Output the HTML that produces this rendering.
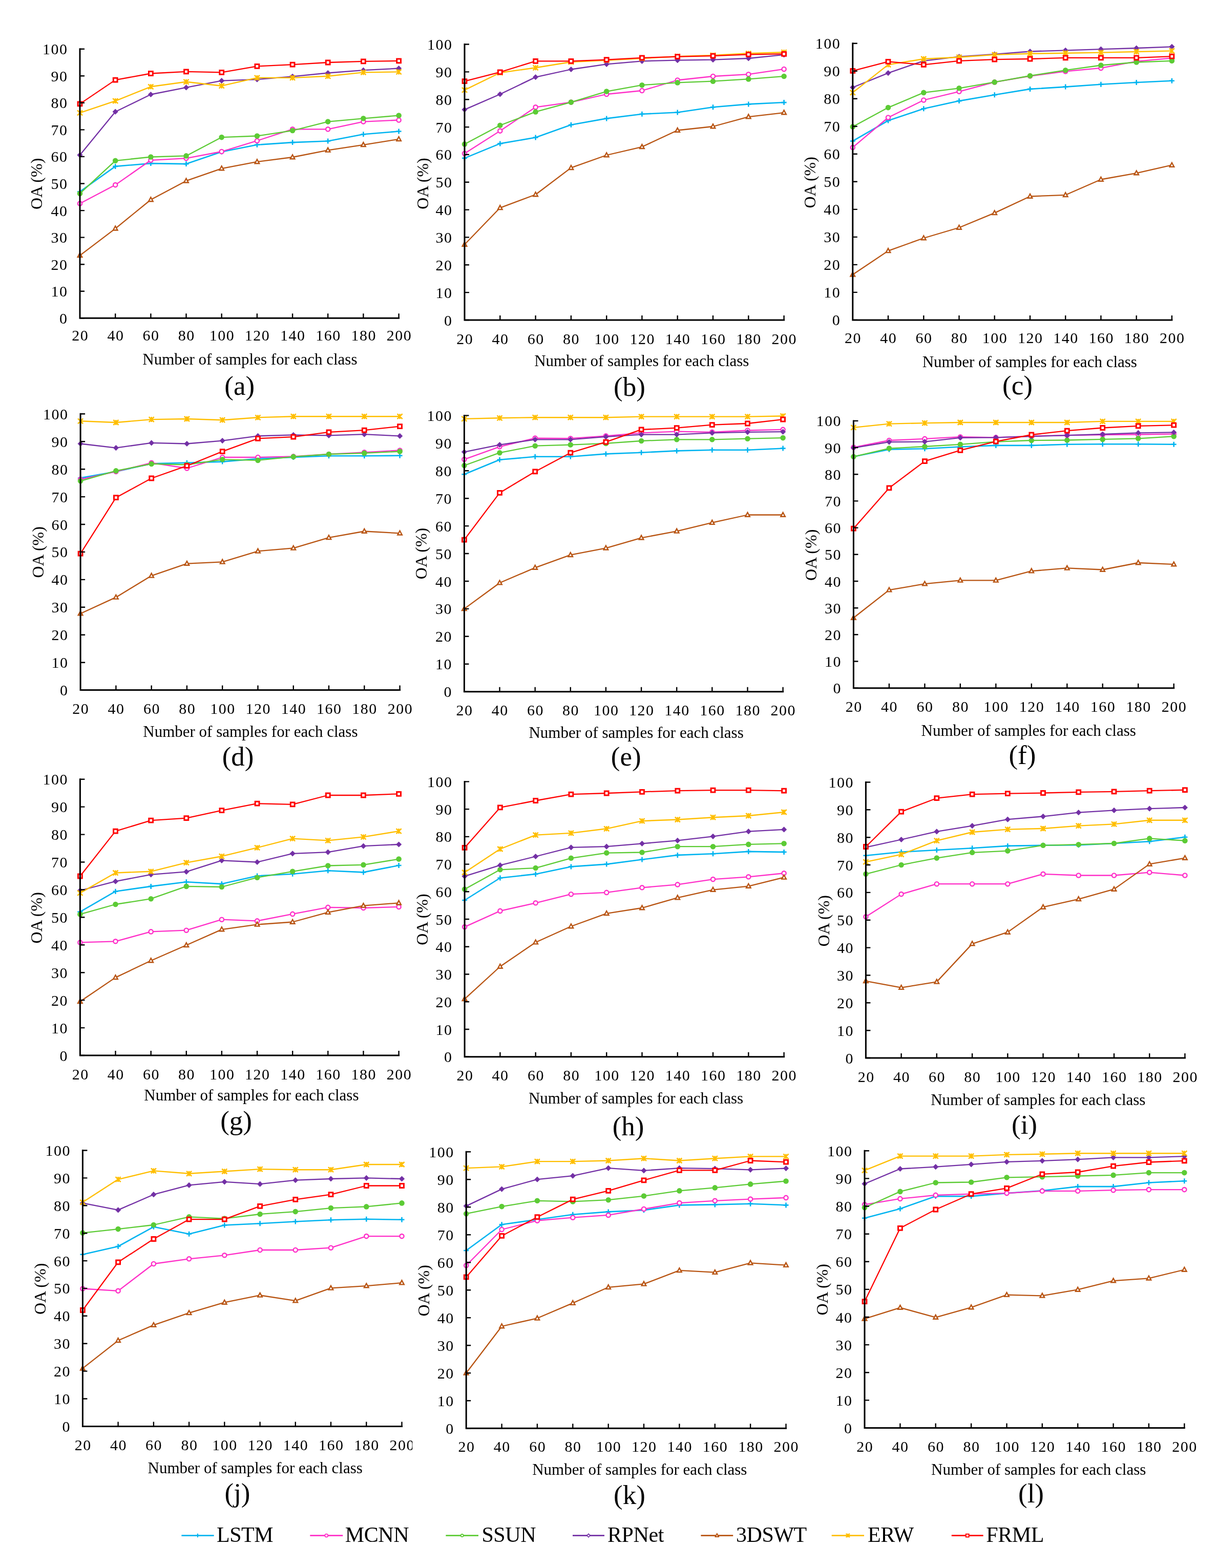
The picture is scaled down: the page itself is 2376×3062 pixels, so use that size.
<!DOCTYPE html>
<html><head><meta charset="utf-8"><title>OA curves</title><style>html,body{margin:0;padding:0;background:#fff;}svg{display:block;}</style></head><body>
<svg width="2376" height="3062" viewBox="0 0 2376 3062" font-family="'Liberation Serif', 'Times New Roman', serif" fill="#000">
<rect width="2376" height="3062" fill="#fff"/>
<g id="chart-a">
<path d="M156 374.3 L225.2 324.9 L294.4 319.1 L363.5 320.1 L432.7 296.5 L501.9 282.8 L571.1 278.1 L640.2 275.5 L709.4 262.3 L778.6 256.5" fill="none" stroke="#00B4F0" stroke-width="2.6" stroke-linejoin="round" stroke-linecap="round"/>
<path d="M151 374.3H161M156 369.3V379.3M220.2 324.9H230.2M225.2 319.9V329.9M289.4 319.1H299.4M294.4 314.1V324.1M358.5 320.1H368.5M363.5 315.1V325.1M427.7 296.5H437.7M432.7 291.5V301.5M496.9 282.8H506.9M501.9 277.8V287.8M566.1 278.1H576.1M571.1 273.1V283.1M635.2 275.5H645.2M640.2 270.5V280.5M704.4 262.3H714.4M709.4 257.3V267.3M773.6 256.5H783.6M778.6 251.5V261.5" fill="none" stroke="#00B4F0" stroke-width="2.6"/>
<path d="M156 397.4 L225.2 361.1 L294.4 312.8 L363.5 309.1 L432.7 296 L501.9 274.9 L571.1 252.3 L640.2 252.3 L709.4 237.6 L778.6 234.5" fill="none" stroke="#FF2FC8" stroke-width="2.3" stroke-linejoin="round" stroke-linecap="round"/>
<circle cx="156" cy="397.4" r="4.1" fill="#fff" stroke="#FF2FC8" stroke-width="2.4"/>
<circle cx="225.2" cy="361.1" r="4.1" fill="#fff" stroke="#FF2FC8" stroke-width="2.4"/>
<circle cx="294.4" cy="312.8" r="4.1" fill="#fff" stroke="#FF2FC8" stroke-width="2.4"/>
<circle cx="363.5" cy="309.1" r="4.1" fill="#fff" stroke="#FF2FC8" stroke-width="2.4"/>
<circle cx="432.7" cy="296" r="4.1" fill="#fff" stroke="#FF2FC8" stroke-width="2.4"/>
<circle cx="501.9" cy="274.9" r="4.1" fill="#fff" stroke="#FF2FC8" stroke-width="2.4"/>
<circle cx="571.1" cy="252.3" r="4.1" fill="#fff" stroke="#FF2FC8" stroke-width="2.4"/>
<circle cx="640.2" cy="252.3" r="4.1" fill="#fff" stroke="#FF2FC8" stroke-width="2.4"/>
<circle cx="709.4" cy="237.6" r="4.1" fill="#fff" stroke="#FF2FC8" stroke-width="2.4"/>
<circle cx="778.6" cy="234.5" r="4.1" fill="#fff" stroke="#FF2FC8" stroke-width="2.4"/>
<path d="M156 377.9 L225.2 313.8 L294.4 306.5 L363.5 304.4 L432.7 268.1 L501.9 265.5 L571.1 255 L640.2 237.6 L709.4 231.3 L778.6 225.5" fill="none" stroke="#5CCB35" stroke-width="2.3" stroke-linejoin="round" stroke-linecap="round"/>
<circle cx="156" cy="377.9" r="5.3" fill="#5CCB35"/>
<circle cx="225.2" cy="313.8" r="5.3" fill="#5CCB35"/>
<circle cx="294.4" cy="306.5" r="5.3" fill="#5CCB35"/>
<circle cx="363.5" cy="304.4" r="5.3" fill="#5CCB35"/>
<circle cx="432.7" cy="268.1" r="5.3" fill="#5CCB35"/>
<circle cx="501.9" cy="265.5" r="5.3" fill="#5CCB35"/>
<circle cx="571.1" cy="255" r="5.3" fill="#5CCB35"/>
<circle cx="640.2" cy="237.6" r="5.3" fill="#5CCB35"/>
<circle cx="709.4" cy="231.3" r="5.3" fill="#5CCB35"/>
<circle cx="778.6" cy="225.5" r="5.3" fill="#5CCB35"/>
<path d="M156 302.8 L225.2 218.2 L294.4 184.5 L363.5 170.9 L432.7 157.7 L501.9 155.1 L571.1 149.3 L640.2 142.5 L709.4 137.2 L778.6 133.5" fill="none" stroke="#7330A5" stroke-width="2.3" stroke-linejoin="round" stroke-linecap="round"/>
<path d="M156 297.2L161.6 302.8L156 308.4L150.4 302.8zM225.2 212.6L230.8 218.2L225.2 223.8L219.6 218.2zM294.4 178.9L300 184.5L294.4 190.1L288.8 184.5zM363.5 165.3L369.1 170.9L363.5 176.5L357.9 170.9zM432.7 152.1L438.3 157.7L432.7 163.3L427.1 157.7zM501.9 149.5L507.5 155.1L501.9 160.7L496.3 155.1zM571.1 143.7L576.7 149.3L571.1 154.9L565.5 149.3zM640.2 136.9L645.8 142.5L640.2 148.1L634.6 142.5zM709.4 131.6L715 137.2L709.4 142.8L703.8 137.2zM778.6 127.9L784.2 133.5L778.6 139.1L773 133.5z" fill="#7330A5" stroke="none"/>
<path d="M156 498.8 L225.2 446.3 L294.4 390 L363.5 353.2 L432.7 329.1 L501.9 315.9 L571.1 307 L640.2 293.3 L709.4 282.8 L778.6 271.8" fill="none" stroke="#B85412" stroke-width="2.3" stroke-linejoin="round" stroke-linecap="round"/>
<path d="M156 494.1L160.3 502.1L151.7 502.1zM225.2 441.5L229.5 449.5L220.9 449.5zM294.4 385.3L298.7 393.3L290.1 393.3zM363.5 348.5L367.8 356.5L359.2 356.5zM432.7 324.3L437 332.3L428.4 332.3zM501.9 311.2L506.2 319.2L497.6 319.2zM571.1 302.3L575.4 310.2L566.8 310.2zM640.2 288.6L644.5 296.6L635.9 296.6zM709.4 278.1L713.7 286L705.1 286zM778.6 267L782.9 275L774.3 275z" fill="#fff" stroke="#B85412" stroke-width="2.4" stroke-linejoin="miter"/>
<path d="M156 220.3 L225.2 197.1 L294.4 169.3 L363.5 159.8 L432.7 167.7 L501.9 151.9 L571.1 151.9 L640.2 148.8 L709.4 141.4 L778.6 140.4" fill="none" stroke="#FFBE00" stroke-width="2.4" stroke-linejoin="round" stroke-linecap="round"/>
<path d="M151 215.3L161 225.3M151 225.3L161 215.3M156 215.3V225.3M220.2 192.1L230.2 202.1M220.2 202.1L230.2 192.1M225.2 192.1V202.1M289.4 164.3L299.4 174.3M289.4 174.3L299.4 164.3M294.4 164.3V174.3M358.5 154.8L368.5 164.8M358.5 164.8L368.5 154.8M363.5 154.8V164.8M427.7 162.7L437.7 172.7M427.7 172.7L437.7 162.7M432.7 162.7V172.7M496.9 146.9L506.9 156.9M496.9 156.9L506.9 146.9M501.9 146.9V156.9M566.1 146.9L576.1 156.9M566.1 156.9L576.1 146.9M571.1 146.9V156.9M635.2 143.8L645.2 153.8M635.2 153.8L645.2 143.8M640.2 143.8V153.8M704.4 136.4L714.4 146.4M704.4 146.4L714.4 136.4M709.4 136.4V146.4M773.6 135.4L783.6 145.4M773.6 145.4L783.6 135.4M778.6 135.4V145.4" fill="none" stroke="#FFBE00" stroke-width="2.6"/>
<path d="M156 202.9 L225.2 156.1 L294.4 143.5 L363.5 139.9 L432.7 141.4 L501.9 129.3 L571.1 126.2 L640.2 122 L709.4 119.9 L778.6 118.8" fill="none" stroke="#FF0000" stroke-width="2.3" stroke-linejoin="round" stroke-linecap="round"/>
<path d="M152.1 199h7.8v7.8h-7.8zM221.3 152.2h7.8v7.8h-7.8zM290.5 139.6h7.8v7.8h-7.8zM359.6 136h7.8v7.8h-7.8zM428.8 137.5h7.8v7.8h-7.8zM498 125.4h7.8v7.8h-7.8zM567.2 122.3h7.8v7.8h-7.8zM636.3 118.1h7.8v7.8h-7.8zM705.5 116h7.8v7.8h-7.8zM774.7 114.9h7.8v7.8h-7.8z" fill="#fff" stroke="#FF0000" stroke-width="3.0" stroke-linejoin="miter"/>
<path d="M156 95.7V621.3H778.6" fill="none" stroke="#000" stroke-width="3.0" stroke-linecap="square"/>
<path d="M156 621.3h9M156 568.7h9M156 516.2h9M156 463.6h9M156 411.1h9M156 358.5h9M156 305.9h9M156 253.4h9M156 200.8h9M156 148.3h9M156 95.7h9M225.2 621.3v-9M294.4 621.3v-9M363.5 621.3v-9M432.7 621.3v-9M501.9 621.3v-9M571.1 621.3v-9M640.2 621.3v-9M709.4 621.3v-9M778.6 621.3v-9" stroke="#000" stroke-width="2.4"/>
<g font-size="30" letter-spacing="1.5"><text x="132.5" y="631.8" text-anchor="end">0</text><text x="132.5" y="579.2" text-anchor="end">10</text><text x="132.5" y="526.7" text-anchor="end">20</text><text x="132.5" y="474.1" text-anchor="end">30</text><text x="132.5" y="421.6" text-anchor="end">40</text><text x="132.5" y="369" text-anchor="end">50</text><text x="132.5" y="316.4" text-anchor="end">60</text><text x="132.5" y="263.9" text-anchor="end">70</text><text x="132.5" y="211.3" text-anchor="end">80</text><text x="132.5" y="158.8" text-anchor="end">90</text><text x="132.5" y="106.2" text-anchor="end">100</text><text x="156.8" y="665.4" text-anchor="middle">20</text><text x="225.9" y="665.4" text-anchor="middle">40</text><text x="295.1" y="665.4" text-anchor="middle">60</text><text x="364.3" y="665.4" text-anchor="middle">80</text><text x="433.5" y="665.4" text-anchor="middle">100</text><text x="502.6" y="665.4" text-anchor="middle">120</text><text x="571.8" y="665.4" text-anchor="middle">140</text><text x="641" y="665.4" text-anchor="middle">160</text><text x="710.2" y="665.4" text-anchor="middle">180</text><text x="779.4" y="665.4" text-anchor="middle">200</text></g>
<text x="487.9" y="711.7" text-anchor="middle" font-size="31">Number of samples for each class</text>
<text x="467.7" y="771" text-anchor="middle" font-size="53">(a)</text>
<text transform="translate(82.3 358.9) rotate(-90)" x="0" y="0" text-anchor="middle" font-size="32">OA (%)</text>
</g>
<g id="chart-b">
<path d="M907 308.9 L976.3 280.4 L1045.6 268.5 L1114.9 243.7 L1184.2 231.4 L1253.4 222.7 L1322.7 219.5 L1392 209.3 L1461.3 203.4 L1530.6 200.1" fill="none" stroke="#00B4F0" stroke-width="2.6" stroke-linejoin="round" stroke-linecap="round"/>
<path d="M902 308.9H912M907 303.9V313.9M971.3 280.4H981.3M976.3 275.4V285.4M1040.6 268.5H1050.6M1045.6 263.5V273.5M1109.9 243.7H1119.9M1114.9 238.7V248.7M1179.2 231.4H1189.2M1184.2 226.4V236.4M1248.4 222.7H1258.4M1253.4 217.7V227.7M1317.7 219.5H1327.7M1322.7 214.5V224.5M1387 209.3H1397M1392 204.3V214.3M1456.3 203.4H1466.3M1461.3 198.4V208.4M1525.6 200.1H1535.6M1530.6 195.1V205.1" fill="none" stroke="#00B4F0" stroke-width="2.6"/>
<path d="M907 299.7 L976.3 255.6 L1045.6 209.3 L1114.9 199.6 L1184.2 184 L1253.4 177 L1322.7 156.5 L1392 149 L1461.3 145.2 L1530.6 135" fill="none" stroke="#FF2FC8" stroke-width="2.3" stroke-linejoin="round" stroke-linecap="round"/>
<circle cx="907" cy="299.7" r="4.1" fill="#fff" stroke="#FF2FC8" stroke-width="2.4"/>
<circle cx="976.3" cy="255.6" r="4.1" fill="#fff" stroke="#FF2FC8" stroke-width="2.4"/>
<circle cx="1045.6" cy="209.3" r="4.1" fill="#fff" stroke="#FF2FC8" stroke-width="2.4"/>
<circle cx="1114.9" cy="199.6" r="4.1" fill="#fff" stroke="#FF2FC8" stroke-width="2.4"/>
<circle cx="1184.2" cy="184" r="4.1" fill="#fff" stroke="#FF2FC8" stroke-width="2.4"/>
<circle cx="1253.4" cy="177" r="4.1" fill="#fff" stroke="#FF2FC8" stroke-width="2.4"/>
<circle cx="1322.7" cy="156.5" r="4.1" fill="#fff" stroke="#FF2FC8" stroke-width="2.4"/>
<circle cx="1392" cy="149" r="4.1" fill="#fff" stroke="#FF2FC8" stroke-width="2.4"/>
<circle cx="1461.3" cy="145.2" r="4.1" fill="#fff" stroke="#FF2FC8" stroke-width="2.4"/>
<circle cx="1530.6" cy="135" r="4.1" fill="#fff" stroke="#FF2FC8" stroke-width="2.4"/>
<path d="M907 281.4 L976.3 244.8 L1045.6 218.4 L1114.9 199.6 L1184.2 178.6 L1253.4 166.2 L1322.7 161.4 L1392 158.7 L1461.3 154.4 L1530.6 149" fill="none" stroke="#5CCB35" stroke-width="2.3" stroke-linejoin="round" stroke-linecap="round"/>
<circle cx="907" cy="281.4" r="5.3" fill="#5CCB35"/>
<circle cx="976.3" cy="244.8" r="5.3" fill="#5CCB35"/>
<circle cx="1045.6" cy="218.4" r="5.3" fill="#5CCB35"/>
<circle cx="1114.9" cy="199.6" r="5.3" fill="#5CCB35"/>
<circle cx="1184.2" cy="178.6" r="5.3" fill="#5CCB35"/>
<circle cx="1253.4" cy="166.2" r="5.3" fill="#5CCB35"/>
<circle cx="1322.7" cy="161.4" r="5.3" fill="#5CCB35"/>
<circle cx="1392" cy="158.7" r="5.3" fill="#5CCB35"/>
<circle cx="1461.3" cy="154.4" r="5.3" fill="#5CCB35"/>
<circle cx="1530.6" cy="149" r="5.3" fill="#5CCB35"/>
<path d="M907 214.1 L976.3 184 L1045.6 150.6 L1114.9 135.5 L1184.2 125.3 L1253.4 119.3 L1322.7 117.7 L1392 116.7 L1461.3 114 L1530.6 107" fill="none" stroke="#7330A5" stroke-width="2.3" stroke-linejoin="round" stroke-linecap="round"/>
<path d="M907 208.5L912.6 214.1L907 219.7L901.4 214.1zM976.3 178.4L981.9 184L976.3 189.6L970.7 184zM1045.6 145L1051.2 150.6L1045.6 156.2L1040 150.6zM1114.9 129.9L1120.5 135.5L1114.9 141.1L1109.3 135.5zM1184.2 119.7L1189.8 125.3L1184.2 130.9L1178.6 125.3zM1253.4 113.7L1259 119.3L1253.4 124.9L1247.8 119.3zM1322.7 112.1L1328.3 117.7L1322.7 123.3L1317.1 117.7zM1392 111.1L1397.6 116.7L1392 122.3L1386.4 116.7zM1461.3 108.4L1466.9 114L1461.3 119.6L1455.7 114zM1530.6 101.4L1536.2 107L1530.6 112.6L1525 107z" fill="#7330A5" stroke="none"/>
<path d="M907 477.5 L976.3 405.8 L1045.6 380 L1114.9 327.7 L1184.2 303 L1253.4 286.8 L1322.7 254.5 L1392 247 L1461.3 228.1 L1530.6 220" fill="none" stroke="#B85412" stroke-width="2.3" stroke-linejoin="round" stroke-linecap="round"/>
<path d="M907 472.7L911.3 480.7L902.7 480.7zM976.3 401.1L980.6 409.1L972 409.1zM1045.6 375.3L1049.9 383.2L1041.3 383.2zM1114.9 323L1119.2 331L1110.6 331zM1184.2 298.2L1188.5 306.2L1179.9 306.2zM1253.4 282.1L1257.7 290L1249.1 290zM1322.7 249.8L1327 257.7L1318.4 257.7zM1392 242.2L1396.3 250.2L1387.7 250.2zM1461.3 223.4L1465.6 231.4L1457 231.4zM1530.6 215.3L1534.9 223.3L1526.3 223.3z" fill="#fff" stroke="#B85412" stroke-width="2.4" stroke-linejoin="miter"/>
<path d="M907 175.9 L976.3 142 L1045.6 132.3 L1114.9 121 L1184.2 117.7 L1253.4 114 L1322.7 110.2 L1392 108 L1461.3 104.3 L1530.6 102.1" fill="none" stroke="#FFBE00" stroke-width="2.4" stroke-linejoin="round" stroke-linecap="round"/>
<path d="M902 170.9L912 180.9M902 180.9L912 170.9M907 170.9V180.9M971.3 137L981.3 147M971.3 147L981.3 137M976.3 137V147M1040.6 127.3L1050.6 137.3M1040.6 137.3L1050.6 127.3M1045.6 127.3V137.3M1109.9 116L1119.9 126M1109.9 126L1119.9 116M1114.9 116V126M1179.2 112.7L1189.2 122.7M1179.2 122.7L1189.2 112.7M1184.2 112.7V122.7M1248.4 109L1258.4 119M1248.4 119L1258.4 109M1253.4 109V119M1317.7 105.2L1327.7 115.2M1317.7 115.2L1327.7 105.2M1322.7 105.2V115.2M1387 103L1397 113M1387 113L1397 103M1392 103V113M1456.3 99.3L1466.3 109.3M1456.3 109.3L1466.3 99.3M1461.3 99.3V109.3M1525.6 97.1L1535.6 107.1M1525.6 107.1L1535.6 97.1M1530.6 97.1V107.1" fill="none" stroke="#FFBE00" stroke-width="2.6"/>
<path d="M907 158.7 L976.3 140.9 L1045.6 119.3 L1114.9 119.3 L1184.2 116.7 L1253.4 112.9 L1322.7 110.7 L1392 109.1 L1461.3 106.4 L1530.6 105.3" fill="none" stroke="#FF0000" stroke-width="2.3" stroke-linejoin="round" stroke-linecap="round"/>
<path d="M903.1 154.8h7.8v7.8h-7.8zM972.4 137h7.8v7.8h-7.8zM1041.7 115.4h7.8v7.8h-7.8zM1111 115.4h7.8v7.8h-7.8zM1180.3 112.8h7.8v7.8h-7.8zM1249.5 109h7.8v7.8h-7.8zM1318.8 106.8h7.8v7.8h-7.8zM1388.1 105.2h7.8v7.8h-7.8zM1457.4 102.5h7.8v7.8h-7.8zM1526.7 101.4h7.8v7.8h-7.8z" fill="#fff" stroke="#FF0000" stroke-width="3.0" stroke-linejoin="miter"/>
<path d="M907 86.5V625H1530.6" fill="none" stroke="#000" stroke-width="3.0" stroke-linecap="square"/>
<path d="M907 625h9M907 571.1h9M907 517.3h9M907 463.4h9M907 409.6h9M907 355.8h9M907 301.9h9M907 248.1h9M907 194.2h9M907 140.4h9M907 86.5h9M976.3 625v-9M1045.6 625v-9M1114.9 625v-9M1184.2 625v-9M1253.4 625v-9M1322.7 625v-9M1392 625v-9M1461.3 625v-9M1530.6 625v-9" stroke="#000" stroke-width="2.4"/>
<g font-size="30" letter-spacing="1.5"><text x="883.5" y="635.5" text-anchor="end">0</text><text x="883.5" y="581.6" text-anchor="end">10</text><text x="883.5" y="527.8" text-anchor="end">20</text><text x="883.5" y="473.9" text-anchor="end">30</text><text x="883.5" y="420.1" text-anchor="end">40</text><text x="883.5" y="366.2" text-anchor="end">50</text><text x="883.5" y="312.4" text-anchor="end">60</text><text x="883.5" y="258.6" text-anchor="end">70</text><text x="883.5" y="204.7" text-anchor="end">80</text><text x="883.5" y="150.9" text-anchor="end">90</text><text x="883.5" y="97" text-anchor="end">100</text><text x="907.8" y="671.6" text-anchor="middle">20</text><text x="977" y="671.6" text-anchor="middle">40</text><text x="1046.3" y="671.6" text-anchor="middle">60</text><text x="1115.6" y="671.6" text-anchor="middle">80</text><text x="1184.9" y="671.6" text-anchor="middle">100</text><text x="1254.2" y="671.6" text-anchor="middle">120</text><text x="1323.5" y="671.6" text-anchor="middle">140</text><text x="1392.8" y="671.6" text-anchor="middle">160</text><text x="1462.1" y="671.6" text-anchor="middle">180</text><text x="1531.3" y="671.6" text-anchor="middle">200</text></g>
<text x="1252.8" y="715" text-anchor="middle" font-size="31">Number of samples for each class</text>
<text x="1229" y="773" text-anchor="middle" font-size="53">(b)</text>
<text transform="translate(835.6 358.5) rotate(-90)" x="0" y="0" text-anchor="middle" font-size="32">OA (%)</text>
</g>
<g id="chart-c">
<path d="M1664.8 275.5 L1734 235.5 L1803.3 212.3 L1872.5 197.1 L1941.7 185.3 L2011 173.9 L2080.2 169.6 L2149.4 164.7 L2218.7 161 L2287.9 157.7" fill="none" stroke="#00B4F0" stroke-width="2.6" stroke-linejoin="round" stroke-linecap="round"/>
<path d="M1659.8 275.5H1669.8M1664.8 270.5V280.5M1729 235.5H1739M1734 230.5V240.5M1798.3 212.3H1808.3M1803.3 207.3V217.3M1867.5 197.1H1877.5M1872.5 192.1V202.1M1936.7 185.3H1946.7M1941.7 180.3V190.3M2006 173.9H2016M2011 168.9V178.9M2075.2 169.6H2085.2M2080.2 164.6V174.6M2144.4 164.7H2154.4M2149.4 159.7V169.7M2213.7 161H2223.7M2218.7 156V166M2282.9 157.7H2292.9M2287.9 152.7V162.7" fill="none" stroke="#00B4F0" stroke-width="2.6"/>
<path d="M1664.8 287.9 L1734 229.5 L1803.3 195.5 L1872.5 178.8 L1941.7 160.4 L2011 148.5 L2080.2 139.4 L2149.4 132.9 L2218.7 119.9 L2287.9 113.4" fill="none" stroke="#FF2FC8" stroke-width="2.3" stroke-linejoin="round" stroke-linecap="round"/>
<circle cx="1664.8" cy="287.9" r="4.1" fill="#fff" stroke="#FF2FC8" stroke-width="2.4"/>
<circle cx="1734" cy="229.5" r="4.1" fill="#fff" stroke="#FF2FC8" stroke-width="2.4"/>
<circle cx="1803.3" cy="195.5" r="4.1" fill="#fff" stroke="#FF2FC8" stroke-width="2.4"/>
<circle cx="1872.5" cy="178.8" r="4.1" fill="#fff" stroke="#FF2FC8" stroke-width="2.4"/>
<circle cx="1941.7" cy="160.4" r="4.1" fill="#fff" stroke="#FF2FC8" stroke-width="2.4"/>
<circle cx="2011" cy="148.5" r="4.1" fill="#fff" stroke="#FF2FC8" stroke-width="2.4"/>
<circle cx="2080.2" cy="139.4" r="4.1" fill="#fff" stroke="#FF2FC8" stroke-width="2.4"/>
<circle cx="2149.4" cy="132.9" r="4.1" fill="#fff" stroke="#FF2FC8" stroke-width="2.4"/>
<circle cx="2218.7" cy="119.9" r="4.1" fill="#fff" stroke="#FF2FC8" stroke-width="2.4"/>
<circle cx="2287.9" cy="113.4" r="4.1" fill="#fff" stroke="#FF2FC8" stroke-width="2.4"/>
<path d="M1664.8 247.4 L1734 210.1 L1803.3 180.9 L1872.5 172.3 L1941.7 160.4 L2011 148 L2080.2 137.2 L2149.4 127.5 L2218.7 121.5 L2287.9 118.8" fill="none" stroke="#5CCB35" stroke-width="2.3" stroke-linejoin="round" stroke-linecap="round"/>
<circle cx="1664.8" cy="247.4" r="5.3" fill="#5CCB35"/>
<circle cx="1734" cy="210.1" r="5.3" fill="#5CCB35"/>
<circle cx="1803.3" cy="180.9" r="5.3" fill="#5CCB35"/>
<circle cx="1872.5" cy="172.3" r="5.3" fill="#5CCB35"/>
<circle cx="1941.7" cy="160.4" r="5.3" fill="#5CCB35"/>
<circle cx="2011" cy="148" r="5.3" fill="#5CCB35"/>
<circle cx="2080.2" cy="137.2" r="5.3" fill="#5CCB35"/>
<circle cx="2149.4" cy="127.5" r="5.3" fill="#5CCB35"/>
<circle cx="2218.7" cy="121.5" r="5.3" fill="#5CCB35"/>
<circle cx="2287.9" cy="118.8" r="5.3" fill="#5CCB35"/>
<path d="M1664.8 170.7 L1734 142.6 L1803.3 118.8 L1872.5 110.7 L1941.7 105.9 L2011 100.5 L2080.2 98.3 L2149.4 96.1 L2218.7 94 L2287.9 91.3" fill="none" stroke="#7330A5" stroke-width="2.3" stroke-linejoin="round" stroke-linecap="round"/>
<path d="M1664.8 165.1L1670.4 170.7L1664.8 176.3L1659.2 170.7zM1734 137L1739.6 142.6L1734 148.2L1728.4 142.6zM1803.3 113.2L1808.9 118.8L1803.3 124.4L1797.7 118.8zM1872.5 105.1L1878.1 110.7L1872.5 116.3L1866.9 110.7zM1941.7 100.3L1947.3 105.9L1941.7 111.5L1936.1 105.9zM2011 94.9L2016.6 100.5L2011 106.1L2005.4 100.5zM2080.2 92.7L2085.8 98.3L2080.2 103.9L2074.6 98.3zM2149.4 90.5L2155 96.1L2149.4 101.7L2143.8 96.1zM2218.7 88.4L2224.3 94L2218.7 99.6L2213.1 94zM2287.9 85.7L2293.5 91.3L2287.9 96.9L2282.3 91.3z" fill="#7330A5" stroke="none"/>
<path d="M1664.8 536.3 L1734 489.9 L1803.3 465 L1872.5 444.5 L1941.7 415.9 L2011 383.5 L2080.2 380.8 L2149.4 350.5 L2218.7 338.1 L2287.9 322.4" fill="none" stroke="#B85412" stroke-width="2.3" stroke-linejoin="round" stroke-linecap="round"/>
<path d="M1664.8 531.6L1669.1 539.5L1660.5 539.5zM1734 485.1L1738.3 493.1L1729.7 493.1zM1803.3 460.3L1807.6 468.3L1799 468.3zM1872.5 439.8L1876.8 447.7L1868.2 447.7zM1941.7 411.2L1946 419.1L1937.4 419.1zM2011 378.7L2015.3 386.7L2006.7 386.7zM2080.2 376L2084.5 384L2075.9 384zM2149.4 345.8L2153.7 353.8L2145.1 353.8zM2218.7 333.4L2223 341.3L2214.4 341.3zM2287.9 317.7L2292.2 325.7L2283.6 325.7z" fill="#fff" stroke="#B85412" stroke-width="2.4" stroke-linejoin="miter"/>
<path d="M1664.8 180.9 L1734 126.4 L1803.3 115 L1872.5 111.8 L1941.7 106.9 L2011 104.8 L2080.2 103.7 L2149.4 102.6 L2218.7 101 L2287.9 99.4" fill="none" stroke="#FFBE00" stroke-width="2.4" stroke-linejoin="round" stroke-linecap="round"/>
<path d="M1659.8 175.9L1669.8 185.9M1659.8 185.9L1669.8 175.9M1664.8 175.9V185.9M1729 121.4L1739 131.4M1729 131.4L1739 121.4M1734 121.4V131.4M1798.3 110L1808.3 120M1798.3 120L1808.3 110M1803.3 110V120M1867.5 106.8L1877.5 116.8M1867.5 116.8L1877.5 106.8M1872.5 106.8V116.8M1936.7 101.9L1946.7 111.9M1936.7 111.9L1946.7 101.9M1941.7 101.9V111.9M2006 99.8L2016 109.8M2006 109.8L2016 99.8M2011 99.8V109.8M2075.2 98.7L2085.2 108.7M2075.2 108.7L2085.2 98.7M2080.2 98.7V108.7M2144.4 97.6L2154.4 107.6M2144.4 107.6L2154.4 97.6M2149.4 97.6V107.6M2213.7 96L2223.7 106M2213.7 106L2223.7 96M2218.7 96V106M2282.9 94.4L2292.9 104.4M2282.9 104.4L2292.9 94.4M2287.9 94.4V104.4" fill="none" stroke="#FFBE00" stroke-width="2.6"/>
<path d="M1664.8 138.3 L1734 120.4 L1803.3 126.4 L1872.5 118.8 L1941.7 116.1 L2011 115 L2080.2 112.9 L2149.4 112.9 L2218.7 112.9 L2287.9 110.2" fill="none" stroke="#FF0000" stroke-width="2.3" stroke-linejoin="round" stroke-linecap="round"/>
<path d="M1660.9 134.4h7.8v7.8h-7.8zM1730.1 116.5h7.8v7.8h-7.8zM1799.4 122.5h7.8v7.8h-7.8zM1868.6 114.9h7.8v7.8h-7.8zM1937.8 112.2h7.8v7.8h-7.8zM2007.1 111.1h7.8v7.8h-7.8zM2076.3 109h7.8v7.8h-7.8zM2145.5 109h7.8v7.8h-7.8zM2214.8 109h7.8v7.8h-7.8zM2284 106.3h7.8v7.8h-7.8z" fill="#fff" stroke="#FF0000" stroke-width="3.0" stroke-linejoin="miter"/>
<path d="M1664.8 84.8V624.9H2287.9" fill="none" stroke="#000" stroke-width="3.0" stroke-linecap="square"/>
<path d="M1664.8 624.9h9M1664.8 570.9h9M1664.8 516.9h9M1664.8 462.9h9M1664.8 408.9h9M1664.8 354.8h9M1664.8 300.8h9M1664.8 246.8h9M1664.8 192.8h9M1664.8 138.8h9M1664.8 84.8h9M1734 624.9v-9M1803.3 624.9v-9M1872.5 624.9v-9M1941.7 624.9v-9M2011 624.9v-9M2080.2 624.9v-9M2149.4 624.9v-9M2218.7 624.9v-9M2287.9 624.9v-9" stroke="#000" stroke-width="2.4"/>
<g font-size="30" letter-spacing="1.5"><text x="1641.3" y="635.4" text-anchor="end">0</text><text x="1641.3" y="581.4" text-anchor="end">10</text><text x="1641.3" y="527.4" text-anchor="end">20</text><text x="1641.3" y="473.4" text-anchor="end">30</text><text x="1641.3" y="419.4" text-anchor="end">40</text><text x="1641.3" y="365.3" text-anchor="end">50</text><text x="1641.3" y="311.3" text-anchor="end">60</text><text x="1641.3" y="257.3" text-anchor="end">70</text><text x="1641.3" y="203.3" text-anchor="end">80</text><text x="1641.3" y="149.3" text-anchor="end">90</text><text x="1641.3" y="95.3" text-anchor="end">100</text><text x="1665.5" y="670.4" text-anchor="middle">20</text><text x="1734.8" y="670.4" text-anchor="middle">40</text><text x="1804" y="670.4" text-anchor="middle">60</text><text x="1873.2" y="670.4" text-anchor="middle">80</text><text x="1942.5" y="670.4" text-anchor="middle">100</text><text x="2011.7" y="670.4" text-anchor="middle">120</text><text x="2080.9" y="670.4" text-anchor="middle">140</text><text x="2150.2" y="670.4" text-anchor="middle">160</text><text x="2219.4" y="670.4" text-anchor="middle">180</text><text x="2288.7" y="670.4" text-anchor="middle">200</text></g>
<text x="2010.3" y="717" text-anchor="middle" font-size="31">Number of samples for each class</text>
<text x="1986.4" y="770" text-anchor="middle" font-size="53">(c)</text>
<text transform="translate(1592 356.3) rotate(-90)" x="0" y="0" text-anchor="middle" font-size="32">OA (%)</text>
</g>
<g id="chart-d">
<path d="M157.1 933.4 L226.4 921 L295.7 905.4 L364.9 903.8 L434.2 901.6 L503.5 895.7 L572.8 893 L642 890.3 L711.3 890.3 L780.6 889.7" fill="none" stroke="#00B4F0" stroke-width="2.6" stroke-linejoin="round" stroke-linecap="round"/>
<path d="M152.1 933.4H162.1M157.1 928.4V938.4M221.4 921H231.4M226.4 916V926M290.7 905.4H300.7M295.7 900.4V910.4M359.9 903.8H369.9M364.9 898.8V908.8M429.2 901.6H439.2M434.2 896.6V906.6M498.5 895.7H508.5M503.5 890.7V900.7M567.8 893H577.8M572.8 888V898M637 890.3H647M642 885.3V895.3M706.3 890.3H716.3M711.3 885.3V895.3M775.6 889.7H785.6M780.6 884.7V894.7" fill="none" stroke="#00B4F0" stroke-width="2.6"/>
<path d="M157.1 936.1 L226.4 921 L295.7 903.8 L364.9 914.5 L434.2 893 L503.5 893 L572.8 891.4 L642 887 L711.3 883.3 L780.6 879.5" fill="none" stroke="#FF2FC8" stroke-width="2.3" stroke-linejoin="round" stroke-linecap="round"/>
<circle cx="157.1" cy="936.1" r="4.1" fill="#fff" stroke="#FF2FC8" stroke-width="2.4"/>
<circle cx="226.4" cy="921" r="4.1" fill="#fff" stroke="#FF2FC8" stroke-width="2.4"/>
<circle cx="295.7" cy="903.8" r="4.1" fill="#fff" stroke="#FF2FC8" stroke-width="2.4"/>
<circle cx="364.9" cy="914.5" r="4.1" fill="#fff" stroke="#FF2FC8" stroke-width="2.4"/>
<circle cx="434.2" cy="893" r="4.1" fill="#fff" stroke="#FF2FC8" stroke-width="2.4"/>
<circle cx="503.5" cy="893" r="4.1" fill="#fff" stroke="#FF2FC8" stroke-width="2.4"/>
<circle cx="572.8" cy="891.4" r="4.1" fill="#fff" stroke="#FF2FC8" stroke-width="2.4"/>
<circle cx="642" cy="887" r="4.1" fill="#fff" stroke="#FF2FC8" stroke-width="2.4"/>
<circle cx="711.3" cy="883.3" r="4.1" fill="#fff" stroke="#FF2FC8" stroke-width="2.4"/>
<circle cx="780.6" cy="879.5" r="4.1" fill="#fff" stroke="#FF2FC8" stroke-width="2.4"/>
<path d="M157.1 939.3 L226.4 919.4 L295.7 905.9 L364.9 907.5 L434.2 897.3 L503.5 898.9 L572.8 891.9 L642 887 L711.3 884.9 L780.6 881.6" fill="none" stroke="#5CCB35" stroke-width="2.3" stroke-linejoin="round" stroke-linecap="round"/>
<circle cx="157.1" cy="939.3" r="5.3" fill="#5CCB35"/>
<circle cx="226.4" cy="919.4" r="5.3" fill="#5CCB35"/>
<circle cx="295.7" cy="905.9" r="5.3" fill="#5CCB35"/>
<circle cx="364.9" cy="907.5" r="5.3" fill="#5CCB35"/>
<circle cx="434.2" cy="897.3" r="5.3" fill="#5CCB35"/>
<circle cx="503.5" cy="898.9" r="5.3" fill="#5CCB35"/>
<circle cx="572.8" cy="891.9" r="5.3" fill="#5CCB35"/>
<circle cx="642" cy="887" r="5.3" fill="#5CCB35"/>
<circle cx="711.3" cy="884.9" r="5.3" fill="#5CCB35"/>
<circle cx="780.6" cy="881.6" r="5.3" fill="#5CCB35"/>
<path d="M157.1 866.5 L226.4 874.6 L295.7 864.9 L364.9 866.5 L434.2 860.6 L503.5 851.4 L572.8 849.3 L642 850.4 L711.3 848.2 L780.6 851.4" fill="none" stroke="#7330A5" stroke-width="2.3" stroke-linejoin="round" stroke-linecap="round"/>
<path d="M157.1 860.9L162.7 866.5L157.1 872.1L151.5 866.5zM226.4 869L232 874.6L226.4 880.2L220.8 874.6zM295.7 859.3L301.3 864.9L295.7 870.5L290.1 864.9zM364.9 860.9L370.5 866.5L364.9 872.1L359.3 866.5zM434.2 855L439.8 860.6L434.2 866.2L428.6 860.6zM503.5 845.8L509.1 851.4L503.5 857L497.9 851.4zM572.8 843.7L578.4 849.3L572.8 854.9L567.2 849.3zM642 844.8L647.6 850.4L642 856L636.4 850.4zM711.3 842.6L716.9 848.2L711.3 853.8L705.7 848.2zM780.6 845.8L786.2 851.4L780.6 857L775 851.4z" fill="#7330A5" stroke="none"/>
<path d="M157.1 1198.2 L226.4 1166.4 L295.7 1124.3 L364.9 1100.6 L434.2 1097.4 L503.5 1076.3 L572.8 1070.4 L642 1049.9 L711.3 1037.5 L780.6 1041.3" fill="none" stroke="#B85412" stroke-width="2.3" stroke-linejoin="round" stroke-linecap="round"/>
<path d="M157.1 1193.5L161.4 1201.4L152.8 1201.4zM226.4 1161.7L230.7 1169.6L222.1 1169.6zM295.7 1119.6L300 1127.6L291.4 1127.6zM364.9 1095.9L369.2 1103.8L360.6 1103.8zM434.2 1092.6L438.5 1100.6L429.9 1100.6zM503.5 1071.6L507.8 1079.6L499.2 1079.6zM572.8 1065.7L577.1 1073.6L568.5 1073.6zM642 1045.2L646.3 1053.1L637.7 1053.1zM711.3 1032.8L715.6 1040.7L707 1040.7zM780.6 1036.5L784.9 1044.5L776.3 1044.5z" fill="#fff" stroke="#B85412" stroke-width="2.4" stroke-linejoin="miter"/>
<path d="M157.1 822.3 L226.4 825 L295.7 819.1 L364.9 818 L434.2 820.2 L503.5 815.3 L572.8 813.2 L642 813.2 L711.3 813.2 L780.6 813.2" fill="none" stroke="#FFBE00" stroke-width="2.4" stroke-linejoin="round" stroke-linecap="round"/>
<path d="M152.1 817.3L162.1 827.3M152.1 827.3L162.1 817.3M157.1 817.3V827.3M221.4 820L231.4 830M221.4 830L231.4 820M226.4 820V830M290.7 814.1L300.7 824.1M290.7 824.1L300.7 814.1M295.7 814.1V824.1M359.9 813L369.9 823M359.9 823L369.9 813M364.9 813V823M429.2 815.2L439.2 825.2M429.2 825.2L439.2 815.2M434.2 815.2V825.2M498.5 810.3L508.5 820.3M498.5 820.3L508.5 810.3M503.5 810.3V820.3M567.8 808.2L577.8 818.2M567.8 818.2L577.8 808.2M572.8 808.2V818.2M637 808.2L647 818.2M637 818.2L647 808.2M642 808.2V818.2M706.3 808.2L716.3 818.2M706.3 818.2L716.3 808.2M711.3 808.2V818.2M775.6 808.2L785.6 818.2M775.6 818.2L785.6 808.2M780.6 808.2V818.2" fill="none" stroke="#FFBE00" stroke-width="2.6"/>
<path d="M157.1 1081.2 L226.4 971.7 L295.7 934 L364.9 909.7 L434.2 881.6 L503.5 856.3 L572.8 853.1 L642 843.9 L711.3 840.1 L780.6 832.6" fill="none" stroke="#FF0000" stroke-width="2.3" stroke-linejoin="round" stroke-linecap="round"/>
<path d="M153.2 1077.3h7.8v7.8h-7.8zM222.5 967.8h7.8v7.8h-7.8zM291.8 930.1h7.8v7.8h-7.8zM361 905.8h7.8v7.8h-7.8zM430.3 877.7h7.8v7.8h-7.8zM499.6 852.4h7.8v7.8h-7.8zM568.9 849.2h7.8v7.8h-7.8zM638.1 840h7.8v7.8h-7.8zM707.4 836.2h7.8v7.8h-7.8zM776.7 828.7h7.8v7.8h-7.8z" fill="#fff" stroke="#FF0000" stroke-width="3.0" stroke-linejoin="miter"/>
<path d="M157.1 808.3V1347.6H780.6" fill="none" stroke="#000" stroke-width="3.0" stroke-linecap="square"/>
<path d="M157.1 1347.6h9M157.1 1293.7h9M157.1 1239.7h9M157.1 1185.8h9M157.1 1131.9h9M157.1 1077.9h9M157.1 1024h9M157.1 970.1h9M157.1 916.2h9M157.1 862.2h9M157.1 808.3h9M226.4 1347.6v-9M295.7 1347.6v-9M364.9 1347.6v-9M434.2 1347.6v-9M503.5 1347.6v-9M572.8 1347.6v-9M642 1347.6v-9M711.3 1347.6v-9M780.6 1347.6v-9" stroke="#000" stroke-width="2.4"/>
<g font-size="30" letter-spacing="1.5"><text x="133.6" y="1358.1" text-anchor="end">0</text><text x="133.6" y="1304.2" text-anchor="end">10</text><text x="133.6" y="1250.2" text-anchor="end">20</text><text x="133.6" y="1196.3" text-anchor="end">30</text><text x="133.6" y="1142.4" text-anchor="end">40</text><text x="133.6" y="1088.4" text-anchor="end">50</text><text x="133.6" y="1034.5" text-anchor="end">60</text><text x="133.6" y="980.6" text-anchor="end">70</text><text x="133.6" y="926.7" text-anchor="end">80</text><text x="133.6" y="872.7" text-anchor="end">90</text><text x="133.6" y="818.8" text-anchor="end">100</text><text x="157.8" y="1393.7" text-anchor="middle">20</text><text x="227.1" y="1393.7" text-anchor="middle">40</text><text x="296.4" y="1393.7" text-anchor="middle">60</text><text x="365.7" y="1393.7" text-anchor="middle">80</text><text x="435" y="1393.7" text-anchor="middle">100</text><text x="504.2" y="1393.7" text-anchor="middle">120</text><text x="573.5" y="1393.7" text-anchor="middle">140</text><text x="642.8" y="1393.7" text-anchor="middle">160</text><text x="712.1" y="1393.7" text-anchor="middle">180</text><text x="781.4" y="1393.7" text-anchor="middle">200</text></g>
<text x="488.9" y="1439" text-anchor="middle" font-size="31">Number of samples for each class</text>
<text x="464.6" y="1495" text-anchor="middle" font-size="53">(d)</text>
<text transform="translate(84.8 1078.3) rotate(-90)" x="0" y="0" text-anchor="middle" font-size="32">OA (%)</text>
</g>
<g id="chart-e">
<path d="M906.4 926.3 L975.5 897.7 L1044.7 891.8 L1113.8 891.8 L1182.9 886.4 L1252.1 883.7 L1321.2 880.4 L1390.3 878.8 L1459.5 878.8 L1528.6 875.6" fill="none" stroke="#00B4F0" stroke-width="2.6" stroke-linejoin="round" stroke-linecap="round"/>
<path d="M901.4 926.3H911.4M906.4 921.3V931.3M970.5 897.7H980.5M975.5 892.7V902.7M1039.7 891.8H1049.7M1044.7 886.8V896.8M1108.8 891.8H1118.8M1113.8 886.8V896.8M1177.9 886.4H1187.9M1182.9 881.4V891.4M1247.1 883.7H1257.1M1252.1 878.7V888.7M1316.2 880.4H1326.2M1321.2 875.4V885.4M1385.3 878.8H1395.3M1390.3 873.8V883.8M1454.5 878.8H1464.5M1459.5 873.8V883.8M1523.6 875.6H1533.6M1528.6 870.6V880.6" fill="none" stroke="#00B4F0" stroke-width="2.6"/>
<path d="M906.4 897.1 L975.5 872.3 L1044.7 855.6 L1113.8 856.2 L1182.9 851.3 L1252.1 845.4 L1321.2 842.7 L1390.3 843.8 L1459.5 840.5 L1528.6 838.9" fill="none" stroke="#FF2FC8" stroke-width="2.3" stroke-linejoin="round" stroke-linecap="round"/>
<circle cx="906.4" cy="897.1" r="4.1" fill="#fff" stroke="#FF2FC8" stroke-width="2.4"/>
<circle cx="975.5" cy="872.3" r="4.1" fill="#fff" stroke="#FF2FC8" stroke-width="2.4"/>
<circle cx="1044.7" cy="855.6" r="4.1" fill="#fff" stroke="#FF2FC8" stroke-width="2.4"/>
<circle cx="1113.8" cy="856.2" r="4.1" fill="#fff" stroke="#FF2FC8" stroke-width="2.4"/>
<circle cx="1182.9" cy="851.3" r="4.1" fill="#fff" stroke="#FF2FC8" stroke-width="2.4"/>
<circle cx="1252.1" cy="845.4" r="4.1" fill="#fff" stroke="#FF2FC8" stroke-width="2.4"/>
<circle cx="1321.2" cy="842.7" r="4.1" fill="#fff" stroke="#FF2FC8" stroke-width="2.4"/>
<circle cx="1390.3" cy="843.8" r="4.1" fill="#fff" stroke="#FF2FC8" stroke-width="2.4"/>
<circle cx="1459.5" cy="840.5" r="4.1" fill="#fff" stroke="#FF2FC8" stroke-width="2.4"/>
<circle cx="1528.6" cy="838.9" r="4.1" fill="#fff" stroke="#FF2FC8" stroke-width="2.4"/>
<path d="M906.4 909 L975.5 884.2 L1044.7 870.7 L1113.8 868.6 L1182.9 865.9 L1252.1 861 L1321.2 858.3 L1390.3 858.3 L1459.5 856.7 L1528.6 855.1" fill="none" stroke="#5CCB35" stroke-width="2.3" stroke-linejoin="round" stroke-linecap="round"/>
<circle cx="906.4" cy="909" r="5.3" fill="#5CCB35"/>
<circle cx="975.5" cy="884.2" r="5.3" fill="#5CCB35"/>
<circle cx="1044.7" cy="870.7" r="5.3" fill="#5CCB35"/>
<circle cx="1113.8" cy="868.6" r="5.3" fill="#5CCB35"/>
<circle cx="1182.9" cy="865.9" r="5.3" fill="#5CCB35"/>
<circle cx="1252.1" cy="861" r="5.3" fill="#5CCB35"/>
<circle cx="1321.2" cy="858.3" r="5.3" fill="#5CCB35"/>
<circle cx="1390.3" cy="858.3" r="5.3" fill="#5CCB35"/>
<circle cx="1459.5" cy="856.7" r="5.3" fill="#5CCB35"/>
<circle cx="1528.6" cy="855.1" r="5.3" fill="#5CCB35"/>
<path d="M906.4 882.6 L975.5 868.6 L1044.7 858.3 L1113.8 858.3 L1182.9 852.9 L1252.1 848.6 L1321.2 848.6 L1390.3 845.4 L1459.5 843.8 L1528.6 843.2" fill="none" stroke="#7330A5" stroke-width="2.3" stroke-linejoin="round" stroke-linecap="round"/>
<path d="M906.4 877L912 882.6L906.4 888.2L900.8 882.6zM975.5 863L981.1 868.6L975.5 874.2L969.9 868.6zM1044.7 852.7L1050.3 858.3L1044.7 863.9L1039.1 858.3zM1113.8 852.7L1119.4 858.3L1113.8 863.9L1108.2 858.3zM1182.9 847.3L1188.5 852.9L1182.9 858.5L1177.3 852.9zM1252.1 843L1257.7 848.6L1252.1 854.2L1246.5 848.6zM1321.2 843L1326.8 848.6L1321.2 854.2L1315.6 848.6zM1390.3 839.8L1395.9 845.4L1390.3 851L1384.7 845.4zM1459.5 838.2L1465.1 843.8L1459.5 849.4L1453.9 843.8zM1528.6 837.6L1534.2 843.2L1528.6 848.8L1523 843.2z" fill="#7330A5" stroke="none"/>
<path d="M906.4 1188.9 L975.5 1138.2 L1044.7 1108.6 L1113.8 1083.7 L1182.9 1070.3 L1252.1 1050.3 L1321.2 1037.4 L1390.3 1020.6 L1459.5 1005.5 L1528.6 1005.5" fill="none" stroke="#B85412" stroke-width="2.3" stroke-linejoin="round" stroke-linecap="round"/>
<path d="M906.4 1184.2L910.7 1192.1L902.1 1192.1zM975.5 1133.5L979.8 1141.4L971.2 1141.4zM1044.7 1103.8L1049 1111.8L1040.4 1111.8zM1113.8 1079L1118.1 1087L1109.5 1087zM1182.9 1065.5L1187.2 1073.5L1178.6 1073.5zM1252.1 1045.6L1256.4 1053.5L1247.8 1053.5zM1321.2 1032.6L1325.5 1040.6L1316.9 1040.6zM1390.3 1015.9L1394.6 1023.9L1386 1023.9zM1459.5 1000.8L1463.8 1008.8L1455.2 1008.8zM1528.6 1000.8L1532.9 1008.8L1524.3 1008.8z" fill="#fff" stroke="#B85412" stroke-width="2.4" stroke-linejoin="miter"/>
<path d="M906.4 817.9 L975.5 816.3 L1044.7 815.2 L1113.8 815.2 L1182.9 815.2 L1252.1 813.6 L1321.2 813.6 L1390.3 813.6 L1459.5 813.6 L1528.6 812.5" fill="none" stroke="#FFBE00" stroke-width="2.4" stroke-linejoin="round" stroke-linecap="round"/>
<path d="M901.4 812.9L911.4 822.9M901.4 822.9L911.4 812.9M906.4 812.9V822.9M970.5 811.3L980.5 821.3M970.5 821.3L980.5 811.3M975.5 811.3V821.3M1039.7 810.2L1049.7 820.2M1039.7 820.2L1049.7 810.2M1044.7 810.2V820.2M1108.8 810.2L1118.8 820.2M1108.8 820.2L1118.8 810.2M1113.8 810.2V820.2M1177.9 810.2L1187.9 820.2M1177.9 820.2L1187.9 810.2M1182.9 810.2V820.2M1247.1 808.6L1257.1 818.6M1247.1 818.6L1257.1 808.6M1252.1 808.6V818.6M1316.2 808.6L1326.2 818.6M1316.2 818.6L1326.2 808.6M1321.2 808.6V818.6M1385.3 808.6L1395.3 818.6M1385.3 818.6L1395.3 808.6M1390.3 808.6V818.6M1454.5 808.6L1464.5 818.6M1454.5 818.6L1464.5 808.6M1459.5 808.6V818.6M1523.6 807.5L1533.6 817.5M1523.6 817.5L1533.6 807.5M1528.6 807.5V817.5" fill="none" stroke="#FFBE00" stroke-width="2.6"/>
<path d="M906.4 1054.1 L975.5 962.4 L1044.7 920.9 L1113.8 884.2 L1182.9 863.2 L1252.1 838.9 L1321.2 835.7 L1390.3 829.7 L1459.5 827 L1528.6 819" fill="none" stroke="#FF0000" stroke-width="2.3" stroke-linejoin="round" stroke-linecap="round"/>
<path d="M902.5 1050.2h7.8v7.8h-7.8zM971.6 958.5h7.8v7.8h-7.8zM1040.8 917h7.8v7.8h-7.8zM1109.9 880.3h7.8v7.8h-7.8zM1179 859.3h7.8v7.8h-7.8zM1248.2 835h7.8v7.8h-7.8zM1317.3 831.8h7.8v7.8h-7.8zM1386.4 825.8h7.8v7.8h-7.8zM1455.6 823.1h7.8v7.8h-7.8zM1524.7 815.1h7.8v7.8h-7.8z" fill="#fff" stroke="#FF0000" stroke-width="3.0" stroke-linejoin="miter"/>
<path d="M906.4 811.4V1350.7H1528.6" fill="none" stroke="#000" stroke-width="3.0" stroke-linecap="square"/>
<path d="M906.4 1350.7h9M906.4 1296.8h9M906.4 1242.8h9M906.4 1188.9h9M906.4 1135h9M906.4 1081h9M906.4 1027.1h9M906.4 973.2h9M906.4 919.3h9M906.4 865.3h9M906.4 811.4h9M975.5 1350.7v-9M1044.7 1350.7v-9M1113.8 1350.7v-9M1182.9 1350.7v-9M1252.1 1350.7v-9M1321.2 1350.7v-9M1390.3 1350.7v-9M1459.5 1350.7v-9M1528.6 1350.7v-9" stroke="#000" stroke-width="2.4"/>
<g font-size="30" letter-spacing="1.5"><text x="882.9" y="1361.2" text-anchor="end">0</text><text x="882.9" y="1307.3" text-anchor="end">10</text><text x="882.9" y="1253.3" text-anchor="end">20</text><text x="882.9" y="1199.4" text-anchor="end">30</text><text x="882.9" y="1145.5" text-anchor="end">40</text><text x="882.9" y="1091.5" text-anchor="end">50</text><text x="882.9" y="1037.6" text-anchor="end">60</text><text x="882.9" y="983.7" text-anchor="end">70</text><text x="882.9" y="929.8" text-anchor="end">80</text><text x="882.9" y="875.8" text-anchor="end">90</text><text x="882.9" y="821.9" text-anchor="end">100</text><text x="907.1" y="1397" text-anchor="middle">20</text><text x="976.3" y="1397" text-anchor="middle">40</text><text x="1045.4" y="1397" text-anchor="middle">60</text><text x="1114.5" y="1397" text-anchor="middle">80</text><text x="1183.7" y="1397" text-anchor="middle">100</text><text x="1252.8" y="1397" text-anchor="middle">120</text><text x="1321.9" y="1397" text-anchor="middle">140</text><text x="1391.1" y="1397" text-anchor="middle">160</text><text x="1460.2" y="1397" text-anchor="middle">180</text><text x="1529.3" y="1397" text-anchor="middle">200</text></g>
<text x="1242.1" y="1441" text-anchor="middle" font-size="31">Number of samples for each class</text>
<text x="1222.2" y="1495" text-anchor="middle" font-size="53">(e)</text>
<text transform="translate(832.8 1081) rotate(-90)" x="0" y="0" text-anchor="middle" font-size="32">OA (%)</text>
</g>
<g id="chart-f">
<path d="M1666.4 891.8 L1735.9 877.7 L1805.4 876.2 L1874.8 872.5 L1944.3 869.9 L2013.8 869.9 L2083.3 867.8 L2152.7 867.3 L2222.2 867.3 L2291.7 867.8" fill="none" stroke="#00B4F0" stroke-width="2.6" stroke-linejoin="round" stroke-linecap="round"/>
<path d="M1661.4 891.8H1671.4M1666.4 886.8V896.8M1730.9 877.7H1740.9M1735.9 872.7V882.7M1800.4 876.2H1810.4M1805.4 871.2V881.2M1869.8 872.5H1879.8M1874.8 867.5V877.5M1939.3 869.9H1949.3M1944.3 864.9V874.9M2008.8 869.9H2018.8M2013.8 864.9V874.9M2078.3 867.8H2088.3M2083.3 862.8V872.8M2147.7 867.3H2157.7M2152.7 862.3V872.3M2217.2 867.3H2227.2M2222.2 862.3V872.3M2286.7 867.8H2296.7M2291.7 862.8V872.8" fill="none" stroke="#00B4F0" stroke-width="2.6"/>
<path d="M1666.4 873.6 L1735.9 860 L1805.4 856.9 L1874.8 853.2 L1944.3 854.3 L2013.8 851.6 L2083.3 850.1 L2152.7 849 L2222.2 848.5 L2291.7 847.5" fill="none" stroke="#FF2FC8" stroke-width="2.3" stroke-linejoin="round" stroke-linecap="round"/>
<circle cx="1666.4" cy="873.6" r="4.1" fill="#fff" stroke="#FF2FC8" stroke-width="2.4"/>
<circle cx="1735.9" cy="860" r="4.1" fill="#fff" stroke="#FF2FC8" stroke-width="2.4"/>
<circle cx="1805.4" cy="856.9" r="4.1" fill="#fff" stroke="#FF2FC8" stroke-width="2.4"/>
<circle cx="1874.8" cy="853.2" r="4.1" fill="#fff" stroke="#FF2FC8" stroke-width="2.4"/>
<circle cx="1944.3" cy="854.3" r="4.1" fill="#fff" stroke="#FF2FC8" stroke-width="2.4"/>
<circle cx="2013.8" cy="851.6" r="4.1" fill="#fff" stroke="#FF2FC8" stroke-width="2.4"/>
<circle cx="2083.3" cy="850.1" r="4.1" fill="#fff" stroke="#FF2FC8" stroke-width="2.4"/>
<circle cx="2152.7" cy="849" r="4.1" fill="#fff" stroke="#FF2FC8" stroke-width="2.4"/>
<circle cx="2222.2" cy="848.5" r="4.1" fill="#fff" stroke="#FF2FC8" stroke-width="2.4"/>
<circle cx="2291.7" cy="847.5" r="4.1" fill="#fff" stroke="#FF2FC8" stroke-width="2.4"/>
<path d="M1666.4 891.8 L1735.9 875.6 L1805.4 872 L1874.8 867.8 L1944.3 862.6 L2013.8 860 L2083.3 859.5 L2152.7 857.9 L2222.2 856.3 L2291.7 852.2" fill="none" stroke="#5CCB35" stroke-width="2.3" stroke-linejoin="round" stroke-linecap="round"/>
<circle cx="1666.4" cy="891.8" r="5.3" fill="#5CCB35"/>
<circle cx="1735.9" cy="875.6" r="5.3" fill="#5CCB35"/>
<circle cx="1805.4" cy="872" r="5.3" fill="#5CCB35"/>
<circle cx="1874.8" cy="867.8" r="5.3" fill="#5CCB35"/>
<circle cx="1944.3" cy="862.6" r="5.3" fill="#5CCB35"/>
<circle cx="2013.8" cy="860" r="5.3" fill="#5CCB35"/>
<circle cx="2083.3" cy="859.5" r="5.3" fill="#5CCB35"/>
<circle cx="2152.7" cy="857.9" r="5.3" fill="#5CCB35"/>
<circle cx="2222.2" cy="856.3" r="5.3" fill="#5CCB35"/>
<circle cx="2291.7" cy="852.2" r="5.3" fill="#5CCB35"/>
<path d="M1666.4 874.6 L1735.9 863.1 L1805.4 862.6 L1874.8 854.8 L1944.3 854.3 L2013.8 852.2 L2083.3 850.1 L2152.7 848 L2222.2 845.4 L2291.7 844.3" fill="none" stroke="#7330A5" stroke-width="2.3" stroke-linejoin="round" stroke-linecap="round"/>
<path d="M1666.4 869L1672 874.6L1666.4 880.2L1660.8 874.6zM1735.9 857.5L1741.5 863.1L1735.9 868.7L1730.3 863.1zM1805.4 857L1811 862.6L1805.4 868.2L1799.8 862.6zM1874.8 849.2L1880.4 854.8L1874.8 860.4L1869.2 854.8zM1944.3 848.7L1949.9 854.3L1944.3 859.9L1938.7 854.3zM2013.8 846.6L2019.4 852.2L2013.8 857.8L2008.2 852.2zM2083.3 844.5L2088.9 850.1L2083.3 855.7L2077.7 850.1zM2152.7 842.4L2158.3 848L2152.7 853.6L2147.1 848zM2222.2 839.8L2227.8 845.4L2222.2 851L2216.6 845.4zM2291.7 838.7L2297.3 844.3L2291.7 849.9L2286.1 844.3z" fill="#7330A5" stroke="none"/>
<path d="M1666.4 1206.5 L1735.9 1152.2 L1805.4 1140.2 L1874.8 1133.4 L1944.3 1133.4 L2013.8 1115.2 L2083.3 1109.4 L2152.7 1112.5 L2222.2 1099 L2291.7 1102.1" fill="none" stroke="#B85412" stroke-width="2.3" stroke-linejoin="round" stroke-linecap="round"/>
<path d="M1666.4 1201.7L1670.7 1209.7L1662.1 1209.7zM1735.9 1147.5L1740.2 1155.4L1731.6 1155.4zM1805.4 1135.5L1809.7 1143.4L1801.1 1143.4zM1874.8 1128.7L1879.1 1136.6L1870.5 1136.6zM1944.3 1128.7L1948.6 1136.6L1940 1136.6zM2013.8 1110.4L2018.1 1118.4L2009.5 1118.4zM2083.3 1104.7L2087.6 1112.6L2079 1112.6zM2152.7 1107.8L2157 1115.8L2148.4 1115.8zM2222.2 1094.2L2226.5 1102.2L2217.9 1102.2zM2291.7 1097.4L2296 1105.3L2287.4 1105.3z" fill="#fff" stroke="#B85412" stroke-width="2.4" stroke-linejoin="miter"/>
<path d="M1666.4 834.9 L1735.9 827.6 L1805.4 826.1 L1874.8 825 L1944.3 825 L2013.8 825 L2083.3 825 L2152.7 822.9 L2222.2 822.9 L2291.7 822.9" fill="none" stroke="#FFBE00" stroke-width="2.4" stroke-linejoin="round" stroke-linecap="round"/>
<path d="M1661.4 829.9L1671.4 839.9M1661.4 839.9L1671.4 829.9M1666.4 829.9V839.9M1730.9 822.6L1740.9 832.6M1730.9 832.6L1740.9 822.6M1735.9 822.6V832.6M1800.4 821.1L1810.4 831.1M1800.4 831.1L1810.4 821.1M1805.4 821.1V831.1M1869.8 820L1879.8 830M1869.8 830L1879.8 820M1874.8 820V830M1939.3 820L1949.3 830M1939.3 830L1949.3 820M1944.3 820V830M2008.8 820L2018.8 830M2008.8 830L2018.8 820M2013.8 820V830M2078.3 820L2088.3 830M2078.3 830L2088.3 820M2083.3 820V830M2147.7 817.9L2157.7 827.9M2147.7 827.9L2157.7 817.9M2152.7 817.9V827.9M2217.2 817.9L2227.2 827.9M2217.2 827.9L2227.2 817.9M2222.2 817.9V827.9M2286.7 817.9L2296.7 827.9M2286.7 827.9L2296.7 817.9M2291.7 817.9V827.9" fill="none" stroke="#FFBE00" stroke-width="2.6"/>
<path d="M1666.4 1032.2 L1735.9 952.9 L1805.4 900.7 L1874.8 879.3 L1944.3 862.1 L2013.8 849 L2083.3 841.2 L2152.7 835.5 L2222.2 831.8 L2291.7 830.2" fill="none" stroke="#FF0000" stroke-width="2.3" stroke-linejoin="round" stroke-linecap="round"/>
<path d="M1662.5 1028.3h7.8v7.8h-7.8zM1732 949h7.8v7.8h-7.8zM1801.5 896.8h7.8v7.8h-7.8zM1870.9 875.4h7.8v7.8h-7.8zM1940.4 858.2h7.8v7.8h-7.8zM2009.9 845.1h7.8v7.8h-7.8zM2079.4 837.3h7.8v7.8h-7.8zM2148.8 831.6h7.8v7.8h-7.8zM2218.3 827.9h7.8v7.8h-7.8zM2287.8 826.3h7.8v7.8h-7.8z" fill="#fff" stroke="#FF0000" stroke-width="3.0" stroke-linejoin="miter"/>
<path d="M1666.4 821.9V1343.7H2291.7" fill="none" stroke="#000" stroke-width="3.0" stroke-linecap="square"/>
<path d="M1666.4 1343.7h9M1666.4 1291.5h9M1666.4 1239.3h9M1666.4 1187.2h9M1666.4 1135h9M1666.4 1082.8h9M1666.4 1030.6h9M1666.4 978.4h9M1666.4 926.3h9M1666.4 874.1h9M1666.4 821.9h9M1735.9 1343.7v-9M1805.4 1343.7v-9M1874.8 1343.7v-9M1944.3 1343.7v-9M2013.8 1343.7v-9M2083.3 1343.7v-9M2152.7 1343.7v-9M2222.2 1343.7v-9M2291.7 1343.7v-9" stroke="#000" stroke-width="2.4"/>
<g font-size="30" letter-spacing="1.5"><text x="1642.9" y="1354.2" text-anchor="end">0</text><text x="1642.9" y="1302" text-anchor="end">10</text><text x="1642.9" y="1249.8" text-anchor="end">20</text><text x="1642.9" y="1197.7" text-anchor="end">30</text><text x="1642.9" y="1145.5" text-anchor="end">40</text><text x="1642.9" y="1093.3" text-anchor="end">50</text><text x="1642.9" y="1041.1" text-anchor="end">60</text><text x="1642.9" y="988.9" text-anchor="end">70</text><text x="1642.9" y="936.8" text-anchor="end">80</text><text x="1642.9" y="884.6" text-anchor="end">90</text><text x="1642.9" y="832.4" text-anchor="end">100</text><text x="1667.2" y="1390.4" text-anchor="middle">20</text><text x="1736.6" y="1390.4" text-anchor="middle">40</text><text x="1806.1" y="1390.4" text-anchor="middle">60</text><text x="1875.6" y="1390.4" text-anchor="middle">80</text><text x="1945.1" y="1390.4" text-anchor="middle">100</text><text x="2014.5" y="1390.4" text-anchor="middle">120</text><text x="2084" y="1390.4" text-anchor="middle">140</text><text x="2153.5" y="1390.4" text-anchor="middle">160</text><text x="2223" y="1390.4" text-anchor="middle">180</text><text x="2292.4" y="1390.4" text-anchor="middle">200</text></g>
<text x="2008.2" y="1437" text-anchor="middle" font-size="31">Number of samples for each class</text>
<text x="1995.9" y="1492" text-anchor="middle" font-size="53">(f)</text>
<text transform="translate(1594 1083.9) rotate(-90)" x="0" y="0" text-anchor="middle" font-size="32">OA (%)</text>
</g>
<g id="chart-g">
<path d="M156.4 1780.6 L225.5 1740.7 L294.7 1730.9 L363.8 1722.3 L432.9 1726.1 L502.1 1710.5 L571.2 1706.7 L640.3 1700.2 L709.5 1703.4 L778.6 1690" fill="none" stroke="#00B4F0" stroke-width="2.6" stroke-linejoin="round" stroke-linecap="round"/>
<path d="M151.4 1780.6H161.4M156.4 1775.6V1785.6M220.5 1740.7H230.5M225.5 1735.7V1745.7M289.7 1730.9H299.7M294.7 1725.9V1735.9M358.8 1722.3H368.8M363.8 1717.3V1727.3M427.9 1726.1H437.9M432.9 1721.1V1731.1M497.1 1710.5H507.1M502.1 1705.5V1715.5M566.2 1706.7H576.2M571.2 1701.7V1711.7M635.3 1700.2H645.3M640.3 1695.2V1705.2M704.5 1703.4H714.5M709.5 1698.4V1708.4M773.6 1690H783.6M778.6 1685V1695" fill="none" stroke="#00B4F0" stroke-width="2.6"/>
<path d="M156.4 1840.4 L225.5 1838.3 L294.7 1819.4 L363.8 1816.7 L432.9 1795.7 L502.1 1798.4 L571.2 1784.9 L640.3 1771.9 L709.5 1773 L778.6 1770.9" fill="none" stroke="#FF2FC8" stroke-width="2.3" stroke-linejoin="round" stroke-linecap="round"/>
<circle cx="156.4" cy="1840.4" r="4.1" fill="#fff" stroke="#FF2FC8" stroke-width="2.4"/>
<circle cx="225.5" cy="1838.3" r="4.1" fill="#fff" stroke="#FF2FC8" stroke-width="2.4"/>
<circle cx="294.7" cy="1819.4" r="4.1" fill="#fff" stroke="#FF2FC8" stroke-width="2.4"/>
<circle cx="363.8" cy="1816.7" r="4.1" fill="#fff" stroke="#FF2FC8" stroke-width="2.4"/>
<circle cx="432.9" cy="1795.7" r="4.1" fill="#fff" stroke="#FF2FC8" stroke-width="2.4"/>
<circle cx="502.1" cy="1798.4" r="4.1" fill="#fff" stroke="#FF2FC8" stroke-width="2.4"/>
<circle cx="571.2" cy="1784.9" r="4.1" fill="#fff" stroke="#FF2FC8" stroke-width="2.4"/>
<circle cx="640.3" cy="1771.9" r="4.1" fill="#fff" stroke="#FF2FC8" stroke-width="2.4"/>
<circle cx="709.5" cy="1773" r="4.1" fill="#fff" stroke="#FF2FC8" stroke-width="2.4"/>
<circle cx="778.6" cy="1770.9" r="4.1" fill="#fff" stroke="#FF2FC8" stroke-width="2.4"/>
<path d="M156.4 1785.4 L225.5 1766 L294.7 1755.2 L363.8 1730.9 L432.9 1732 L502.1 1713.7 L571.2 1701.8 L640.3 1690.5 L709.5 1688.9 L778.6 1677.6" fill="none" stroke="#5CCB35" stroke-width="2.3" stroke-linejoin="round" stroke-linecap="round"/>
<circle cx="156.4" cy="1785.4" r="5.3" fill="#5CCB35"/>
<circle cx="225.5" cy="1766" r="5.3" fill="#5CCB35"/>
<circle cx="294.7" cy="1755.2" r="5.3" fill="#5CCB35"/>
<circle cx="363.8" cy="1730.9" r="5.3" fill="#5CCB35"/>
<circle cx="432.9" cy="1732" r="5.3" fill="#5CCB35"/>
<circle cx="502.1" cy="1713.7" r="5.3" fill="#5CCB35"/>
<circle cx="571.2" cy="1701.8" r="5.3" fill="#5CCB35"/>
<circle cx="640.3" cy="1690.5" r="5.3" fill="#5CCB35"/>
<circle cx="709.5" cy="1688.9" r="5.3" fill="#5CCB35"/>
<circle cx="778.6" cy="1677.6" r="5.3" fill="#5CCB35"/>
<path d="M156.4 1739 L225.5 1721.2 L294.7 1707.8 L363.8 1702.4 L432.9 1680.3 L502.1 1683.5 L571.2 1666.8 L640.3 1664.1 L709.5 1652.2 L778.6 1649" fill="none" stroke="#7330A5" stroke-width="2.3" stroke-linejoin="round" stroke-linecap="round"/>
<path d="M156.4 1733.4L162 1739L156.4 1744.6L150.8 1739zM225.5 1715.6L231.1 1721.2L225.5 1726.8L219.9 1721.2zM294.7 1702.2L300.3 1707.8L294.7 1713.4L289.1 1707.8zM363.8 1696.8L369.4 1702.4L363.8 1708L358.2 1702.4zM432.9 1674.7L438.5 1680.3L432.9 1685.9L427.3 1680.3zM502.1 1677.9L507.7 1683.5L502.1 1689.1L496.5 1683.5zM571.2 1661.2L576.8 1666.8L571.2 1672.4L565.6 1666.8zM640.3 1658.5L645.9 1664.1L640.3 1669.7L634.7 1664.1zM709.5 1646.6L715.1 1652.2L709.5 1657.8L703.9 1652.2zM778.6 1643.4L784.2 1649L778.6 1654.6L773 1649z" fill="#7330A5" stroke="none"/>
<path d="M156.4 1955.8 L225.5 1908.9 L294.7 1876 L363.8 1845.8 L432.9 1815.1 L502.1 1805.4 L571.2 1800.5 L640.3 1781.6 L709.5 1768.7 L778.6 1763.3" fill="none" stroke="#B85412" stroke-width="2.3" stroke-linejoin="round" stroke-linecap="round"/>
<path d="M156.4 1951.1L160.7 1959.1L152.1 1959.1zM225.5 1904.2L229.8 1912.1L221.2 1912.1zM294.7 1871.3L299 1879.2L290.4 1879.2zM363.8 1841.1L368.1 1849L359.5 1849zM432.9 1810.3L437.2 1818.3L428.6 1818.3zM502.1 1800.6L506.4 1808.6L497.8 1808.6zM571.2 1795.8L575.5 1803.7L566.9 1803.7zM640.3 1776.9L644.6 1784.9L636 1784.9zM709.5 1764L713.8 1771.9L705.2 1771.9zM778.6 1758.6L782.9 1766.5L774.3 1766.5z" fill="#fff" stroke="#B85412" stroke-width="2.4" stroke-linejoin="miter"/>
<path d="M156.4 1743.9 L225.5 1704.5 L294.7 1701.8 L363.8 1684.6 L432.9 1672.2 L502.1 1655.4 L571.2 1637.6 L640.3 1641.4 L709.5 1634.4 L778.6 1623.1" fill="none" stroke="#FFBE00" stroke-width="2.4" stroke-linejoin="round" stroke-linecap="round"/>
<path d="M151.4 1738.9L161.4 1748.9M151.4 1748.9L161.4 1738.9M156.4 1738.9V1748.9M220.5 1699.5L230.5 1709.5M220.5 1709.5L230.5 1699.5M225.5 1699.5V1709.5M289.7 1696.8L299.7 1706.8M289.7 1706.8L299.7 1696.8M294.7 1696.8V1706.8M358.8 1679.6L368.8 1689.6M358.8 1689.6L368.8 1679.6M363.8 1679.6V1689.6M427.9 1667.2L437.9 1677.2M427.9 1677.2L437.9 1667.2M432.9 1667.2V1677.2M497.1 1650.4L507.1 1660.4M497.1 1660.4L507.1 1650.4M502.1 1650.4V1660.4M566.2 1632.6L576.2 1642.6M566.2 1642.6L576.2 1632.6M571.2 1632.6V1642.6M635.3 1636.4L645.3 1646.4M635.3 1646.4L645.3 1636.4M640.3 1636.4V1646.4M704.5 1629.4L714.5 1639.4M704.5 1639.4L714.5 1629.4M709.5 1629.4V1639.4M773.6 1618.1L783.6 1628.1M773.6 1628.1L783.6 1618.1M778.6 1618.1V1628.1" fill="none" stroke="#FFBE00" stroke-width="2.6"/>
<path d="M156.4 1711 L225.5 1623.1 L294.7 1602.1 L363.8 1597.7 L432.9 1582.6 L502.1 1569.2 L571.2 1570.8 L640.3 1553 L709.5 1553 L778.6 1550.3" fill="none" stroke="#FF0000" stroke-width="2.3" stroke-linejoin="round" stroke-linecap="round"/>
<path d="M152.5 1707.1h7.8v7.8h-7.8zM221.6 1619.2h7.8v7.8h-7.8zM290.8 1598.2h7.8v7.8h-7.8zM359.9 1593.8h7.8v7.8h-7.8zM429 1578.7h7.8v7.8h-7.8zM498.2 1565.3h7.8v7.8h-7.8zM567.3 1566.9h7.8v7.8h-7.8zM636.4 1549.1h7.8v7.8h-7.8zM705.6 1549.1h7.8v7.8h-7.8zM774.7 1546.4h7.8v7.8h-7.8z" fill="#fff" stroke="#FF0000" stroke-width="3.0" stroke-linejoin="miter"/>
<path d="M156.4 1521.7V2061H778.6" fill="none" stroke="#000" stroke-width="3.0" stroke-linecap="square"/>
<path d="M156.4 2061h9M156.4 2007.1h9M156.4 1953.1h9M156.4 1899.2h9M156.4 1845.3h9M156.4 1791.3h9M156.4 1737.4h9M156.4 1683.5h9M156.4 1629.6h9M156.4 1575.6h9M156.4 1521.7h9M225.5 2061v-9M294.7 2061v-9M363.8 2061v-9M432.9 2061v-9M502.1 2061v-9M571.2 2061v-9M640.3 2061v-9M709.5 2061v-9M778.6 2061v-9" stroke="#000" stroke-width="2.4"/>
<g font-size="30" letter-spacing="1.5"><text x="132.9" y="2071.5" text-anchor="end">0</text><text x="132.9" y="2017.6" text-anchor="end">10</text><text x="132.9" y="1963.6" text-anchor="end">20</text><text x="132.9" y="1909.7" text-anchor="end">30</text><text x="132.9" y="1855.8" text-anchor="end">40</text><text x="132.9" y="1801.8" text-anchor="end">50</text><text x="132.9" y="1747.9" text-anchor="end">60</text><text x="132.9" y="1694" text-anchor="end">70</text><text x="132.9" y="1640.1" text-anchor="end">80</text><text x="132.9" y="1586.1" text-anchor="end">90</text><text x="132.9" y="1532.2" text-anchor="end">100</text><text x="157.2" y="2107.5" text-anchor="middle">20</text><text x="226.3" y="2107.5" text-anchor="middle">40</text><text x="295.4" y="2107.5" text-anchor="middle">60</text><text x="364.6" y="2107.5" text-anchor="middle">80</text><text x="433.7" y="2107.5" text-anchor="middle">100</text><text x="502.8" y="2107.5" text-anchor="middle">120</text><text x="572" y="2107.5" text-anchor="middle">140</text><text x="641.1" y="2107.5" text-anchor="middle">160</text><text x="710.2" y="2107.5" text-anchor="middle">180</text><text x="779.4" y="2107.5" text-anchor="middle">200</text></g>
<text x="490.9" y="2148.8" text-anchor="middle" font-size="31">Number of samples for each class</text>
<text x="461.1" y="2206" text-anchor="middle" font-size="53">(g)</text>
<text transform="translate(82.3 1792.4) rotate(-90)" x="0" y="0" text-anchor="middle" font-size="32">OA (%)</text>
</g>
<g id="chart-h">
<path d="M907.1 1758 L976.4 1714.5 L1045.7 1706.9 L1114.9 1692.4 L1184.2 1687.6 L1253.5 1678.5 L1322.8 1669.9 L1392 1667.2 L1461.3 1662.9 L1530.6 1663.9" fill="none" stroke="#00B4F0" stroke-width="2.6" stroke-linejoin="round" stroke-linecap="round"/>
<path d="M902.1 1758H912.1M907.1 1753V1763M971.4 1714.5H981.4M976.4 1709.5V1719.5M1040.7 1706.9H1050.7M1045.7 1701.9V1711.9M1109.9 1692.4H1119.9M1114.9 1687.4V1697.4M1179.2 1687.6H1189.2M1184.2 1682.6V1692.6M1248.5 1678.5H1258.5M1253.5 1673.5V1683.5M1317.8 1669.9H1327.8M1322.8 1664.9V1674.9M1387 1667.2H1397M1392 1662.2V1672.2M1456.3 1662.9H1466.3M1461.3 1657.9V1667.9M1525.6 1663.9H1535.6M1530.6 1658.9V1668.9" fill="none" stroke="#00B4F0" stroke-width="2.6"/>
<path d="M907.1 1810.1 L976.4 1778.9 L1045.7 1763.3 L1114.9 1746.2 L1184.2 1742.9 L1253.5 1733.3 L1322.8 1727.4 L1392 1717.1 L1461.3 1712.3 L1530.6 1705.3" fill="none" stroke="#FF2FC8" stroke-width="2.3" stroke-linejoin="round" stroke-linecap="round"/>
<circle cx="907.1" cy="1810.1" r="4.1" fill="#fff" stroke="#FF2FC8" stroke-width="2.4"/>
<circle cx="976.4" cy="1778.9" r="4.1" fill="#fff" stroke="#FF2FC8" stroke-width="2.4"/>
<circle cx="1045.7" cy="1763.3" r="4.1" fill="#fff" stroke="#FF2FC8" stroke-width="2.4"/>
<circle cx="1114.9" cy="1746.2" r="4.1" fill="#fff" stroke="#FF2FC8" stroke-width="2.4"/>
<circle cx="1184.2" cy="1742.9" r="4.1" fill="#fff" stroke="#FF2FC8" stroke-width="2.4"/>
<circle cx="1253.5" cy="1733.3" r="4.1" fill="#fff" stroke="#FF2FC8" stroke-width="2.4"/>
<circle cx="1322.8" cy="1727.4" r="4.1" fill="#fff" stroke="#FF2FC8" stroke-width="2.4"/>
<circle cx="1392" cy="1717.1" r="4.1" fill="#fff" stroke="#FF2FC8" stroke-width="2.4"/>
<circle cx="1461.3" cy="1712.3" r="4.1" fill="#fff" stroke="#FF2FC8" stroke-width="2.4"/>
<circle cx="1530.6" cy="1705.3" r="4.1" fill="#fff" stroke="#FF2FC8" stroke-width="2.4"/>
<path d="M907.1 1736.5 L976.4 1698.3 L1045.7 1695.1 L1114.9 1675.8 L1184.2 1665.6 L1253.5 1664.5 L1322.8 1653.2 L1392 1653.2 L1461.3 1648.9 L1530.6 1647.3" fill="none" stroke="#5CCB35" stroke-width="2.3" stroke-linejoin="round" stroke-linecap="round"/>
<circle cx="907.1" cy="1736.5" r="5.3" fill="#5CCB35"/>
<circle cx="976.4" cy="1698.3" r="5.3" fill="#5CCB35"/>
<circle cx="1045.7" cy="1695.1" r="5.3" fill="#5CCB35"/>
<circle cx="1114.9" cy="1675.8" r="5.3" fill="#5CCB35"/>
<circle cx="1184.2" cy="1665.6" r="5.3" fill="#5CCB35"/>
<circle cx="1253.5" cy="1664.5" r="5.3" fill="#5CCB35"/>
<circle cx="1322.8" cy="1653.2" r="5.3" fill="#5CCB35"/>
<circle cx="1392" cy="1653.2" r="5.3" fill="#5CCB35"/>
<circle cx="1461.3" cy="1648.9" r="5.3" fill="#5CCB35"/>
<circle cx="1530.6" cy="1647.3" r="5.3" fill="#5CCB35"/>
<path d="M907.1 1711.2 L976.4 1689.7 L1045.7 1672.5 L1114.9 1654.8 L1184.2 1653.2 L1253.5 1647.3 L1322.8 1641.4 L1392 1633.3 L1461.3 1623.7 L1530.6 1619.9" fill="none" stroke="#7330A5" stroke-width="2.3" stroke-linejoin="round" stroke-linecap="round"/>
<path d="M907.1 1705.6L912.7 1711.2L907.1 1716.8L901.5 1711.2zM976.4 1684.1L982 1689.7L976.4 1695.3L970.8 1689.7zM1045.7 1666.9L1051.3 1672.5L1045.7 1678.1L1040.1 1672.5zM1114.9 1649.2L1120.5 1654.8L1114.9 1660.4L1109.3 1654.8zM1184.2 1647.6L1189.8 1653.2L1184.2 1658.8L1178.6 1653.2zM1253.5 1641.7L1259.1 1647.3L1253.5 1652.9L1247.9 1647.3zM1322.8 1635.8L1328.4 1641.4L1322.8 1647L1317.2 1641.4zM1392 1627.7L1397.6 1633.3L1392 1638.9L1386.4 1633.3zM1461.3 1618.1L1466.9 1623.7L1461.3 1629.3L1455.7 1623.7zM1530.6 1614.3L1536.2 1619.9L1530.6 1625.5L1525 1619.9z" fill="#7330A5" stroke="none"/>
<path d="M907.1 1950.9 L976.4 1887.5 L1045.7 1840.2 L1114.9 1809 L1184.2 1783.8 L1253.5 1773 L1322.8 1753.1 L1392 1737.6 L1461.3 1730.6 L1530.6 1713.4" fill="none" stroke="#B85412" stroke-width="2.3" stroke-linejoin="round" stroke-linecap="round"/>
<path d="M907.1 1946.1L911.4 1954.1L902.8 1954.1zM976.4 1882.7L980.7 1890.7L972.1 1890.7zM1045.7 1835.5L1050 1843.4L1041.4 1843.4zM1114.9 1804.3L1119.2 1812.2L1110.6 1812.2zM1184.2 1779L1188.5 1787L1179.9 1787zM1253.5 1768.3L1257.8 1776.2L1249.2 1776.2zM1322.8 1748.4L1327.1 1756.4L1318.5 1756.4zM1392 1732.8L1396.3 1740.8L1387.7 1740.8zM1461.3 1725.8L1465.6 1733.8L1457 1733.8zM1530.6 1708.7L1534.9 1716.6L1526.3 1716.6z" fill="#fff" stroke="#B85412" stroke-width="2.4" stroke-linejoin="miter"/>
<path d="M907.1 1703.7 L976.4 1658 L1045.7 1630.6 L1114.9 1626.9 L1184.2 1618.3 L1253.5 1603.2 L1322.8 1600.5 L1392 1596.2 L1461.3 1593 L1530.6 1586" fill="none" stroke="#FFBE00" stroke-width="2.4" stroke-linejoin="round" stroke-linecap="round"/>
<path d="M902.1 1698.7L912.1 1708.7M902.1 1708.7L912.1 1698.7M907.1 1698.7V1708.7M971.4 1653L981.4 1663M971.4 1663L981.4 1653M976.4 1653V1663M1040.7 1625.6L1050.7 1635.6M1040.7 1635.6L1050.7 1625.6M1045.7 1625.6V1635.6M1109.9 1621.9L1119.9 1631.9M1109.9 1631.9L1119.9 1621.9M1114.9 1621.9V1631.9M1179.2 1613.3L1189.2 1623.3M1179.2 1623.3L1189.2 1613.3M1184.2 1613.3V1623.3M1248.5 1598.2L1258.5 1608.2M1248.5 1608.2L1258.5 1598.2M1253.5 1598.2V1608.2M1317.8 1595.5L1327.8 1605.5M1317.8 1605.5L1327.8 1595.5M1322.8 1595.5V1605.5M1387 1591.2L1397 1601.2M1387 1601.2L1397 1591.2M1392 1591.2V1601.2M1456.3 1588L1466.3 1598M1456.3 1598L1466.3 1588M1461.3 1588V1598M1525.6 1581L1535.6 1591M1525.6 1591L1535.6 1581M1530.6 1581V1591" fill="none" stroke="#FFBE00" stroke-width="2.6"/>
<path d="M907.1 1655.4 L976.4 1576.9 L1045.7 1563.5 L1114.9 1551.1 L1184.2 1549 L1253.5 1546.3 L1322.8 1544.1 L1392 1543.1 L1461.3 1543.1 L1530.6 1544.1" fill="none" stroke="#FF0000" stroke-width="2.3" stroke-linejoin="round" stroke-linecap="round"/>
<path d="M903.2 1651.5h7.8v7.8h-7.8zM972.5 1573h7.8v7.8h-7.8zM1041.8 1559.6h7.8v7.8h-7.8zM1111 1547.2h7.8v7.8h-7.8zM1180.3 1545.1h7.8v7.8h-7.8zM1249.6 1542.4h7.8v7.8h-7.8zM1318.9 1540.2h7.8v7.8h-7.8zM1388.1 1539.2h7.8v7.8h-7.8zM1457.4 1539.2h7.8v7.8h-7.8zM1526.7 1540.2h7.8v7.8h-7.8z" fill="#fff" stroke="#FF0000" stroke-width="3.0" stroke-linejoin="miter"/>
<path d="M907.1 1526.4V2063.7H1530.6" fill="none" stroke="#000" stroke-width="3.0" stroke-linecap="square"/>
<path d="M907.1 2063.7h9M907.1 2010h9M907.1 1956.2h9M907.1 1902.5h9M907.1 1848.8h9M907.1 1795h9M907.1 1741.3h9M907.1 1687.6h9M907.1 1633.9h9M907.1 1580.1h9M907.1 1526.4h9M976.4 2063.7v-9M1045.7 2063.7v-9M1114.9 2063.7v-9M1184.2 2063.7v-9M1253.5 2063.7v-9M1322.8 2063.7v-9M1392 2063.7v-9M1461.3 2063.7v-9M1530.6 2063.7v-9" stroke="#000" stroke-width="2.4"/>
<g font-size="30" letter-spacing="1.5"><text x="883.6" y="2074.2" text-anchor="end">0</text><text x="883.6" y="2020.5" text-anchor="end">10</text><text x="883.6" y="1966.7" text-anchor="end">20</text><text x="883.6" y="1913" text-anchor="end">30</text><text x="883.6" y="1859.3" text-anchor="end">40</text><text x="883.6" y="1805.5" text-anchor="end">50</text><text x="883.6" y="1751.8" text-anchor="end">60</text><text x="883.6" y="1698.1" text-anchor="end">70</text><text x="883.6" y="1644.4" text-anchor="end">80</text><text x="883.6" y="1590.6" text-anchor="end">90</text><text x="883.6" y="1536.9" text-anchor="end">100</text><text x="907.9" y="2109.6" text-anchor="middle">20</text><text x="977.1" y="2109.6" text-anchor="middle">40</text><text x="1046.4" y="2109.6" text-anchor="middle">60</text><text x="1115.7" y="2109.6" text-anchor="middle">80</text><text x="1185" y="2109.6" text-anchor="middle">100</text><text x="1254.2" y="2109.6" text-anchor="middle">120</text><text x="1323.5" y="2109.6" text-anchor="middle">140</text><text x="1392.8" y="2109.6" text-anchor="middle">160</text><text x="1462.1" y="2109.6" text-anchor="middle">180</text><text x="1531.3" y="2109.6" text-anchor="middle">200</text></g>
<text x="1241.5" y="2155" text-anchor="middle" font-size="31">Number of samples for each class</text>
<text x="1226.6" y="2217" text-anchor="middle" font-size="53">(h)</text>
<text transform="translate(835.2 1795.6) rotate(-90)" x="0" y="0" text-anchor="middle" font-size="32">OA (%)</text>
</g>
<g id="chart-i">
<path d="M1690.4 1670.7 L1759.6 1663.7 L1828.8 1660 L1898.1 1656.2 L1967.3 1651.9 L2036.5 1650.8 L2105.7 1650.3 L2175 1647 L2244.2 1643.3 L2313.4 1634.7" fill="none" stroke="#00B4F0" stroke-width="2.6" stroke-linejoin="round" stroke-linecap="round"/>
<path d="M1685.4 1670.7H1695.4M1690.4 1665.7V1675.7M1754.6 1663.7H1764.6M1759.6 1658.7V1668.7M1823.8 1660H1833.8M1828.8 1655V1665M1893.1 1656.2H1903.1M1898.1 1651.2V1661.2M1962.3 1651.9H1972.3M1967.3 1646.9V1656.9M2031.5 1650.8H2041.5M2036.5 1645.8V1655.8M2100.7 1650.3H2110.7M2105.7 1645.3V1655.3M2170 1647H2180M2175 1642V1652M2239.2 1643.3H2249.2M2244.2 1638.3V1648.3M2308.4 1634.7H2318.4M2313.4 1629.7V1639.7" fill="none" stroke="#00B4F0" stroke-width="2.6"/>
<path d="M1690.4 1790.3 L1759.6 1746.1 L1828.8 1726.2 L1898.1 1726.2 L1967.3 1726.2 L2036.5 1706.8 L2105.7 1709.5 L2175 1709.5 L2244.2 1703.6 L2313.4 1709.5" fill="none" stroke="#FF2FC8" stroke-width="2.3" stroke-linejoin="round" stroke-linecap="round"/>
<circle cx="1690.4" cy="1790.3" r="4.1" fill="#fff" stroke="#FF2FC8" stroke-width="2.4"/>
<circle cx="1759.6" cy="1746.1" r="4.1" fill="#fff" stroke="#FF2FC8" stroke-width="2.4"/>
<circle cx="1828.8" cy="1726.2" r="4.1" fill="#fff" stroke="#FF2FC8" stroke-width="2.4"/>
<circle cx="1898.1" cy="1726.2" r="4.1" fill="#fff" stroke="#FF2FC8" stroke-width="2.4"/>
<circle cx="1967.3" cy="1726.2" r="4.1" fill="#fff" stroke="#FF2FC8" stroke-width="2.4"/>
<circle cx="2036.5" cy="1706.8" r="4.1" fill="#fff" stroke="#FF2FC8" stroke-width="2.4"/>
<circle cx="2105.7" cy="1709.5" r="4.1" fill="#fff" stroke="#FF2FC8" stroke-width="2.4"/>
<circle cx="2175" cy="1709.5" r="4.1" fill="#fff" stroke="#FF2FC8" stroke-width="2.4"/>
<circle cx="2244.2" cy="1703.6" r="4.1" fill="#fff" stroke="#FF2FC8" stroke-width="2.4"/>
<circle cx="2313.4" cy="1709.5" r="4.1" fill="#fff" stroke="#FF2FC8" stroke-width="2.4"/>
<path d="M1690.4 1706.8 L1759.6 1689 L1828.8 1675.6 L1898.1 1664.8 L1967.3 1661.6 L2036.5 1650.8 L2105.7 1649.2 L2175 1647 L2244.2 1637.4 L2313.4 1641.7" fill="none" stroke="#5CCB35" stroke-width="2.3" stroke-linejoin="round" stroke-linecap="round"/>
<circle cx="1690.4" cy="1706.8" r="5.3" fill="#5CCB35"/>
<circle cx="1759.6" cy="1689" r="5.3" fill="#5CCB35"/>
<circle cx="1828.8" cy="1675.6" r="5.3" fill="#5CCB35"/>
<circle cx="1898.1" cy="1664.8" r="5.3" fill="#5CCB35"/>
<circle cx="1967.3" cy="1661.6" r="5.3" fill="#5CCB35"/>
<circle cx="2036.5" cy="1650.8" r="5.3" fill="#5CCB35"/>
<circle cx="2105.7" cy="1649.2" r="5.3" fill="#5CCB35"/>
<circle cx="2175" cy="1647" r="5.3" fill="#5CCB35"/>
<circle cx="2244.2" cy="1637.4" r="5.3" fill="#5CCB35"/>
<circle cx="2313.4" cy="1641.7" r="5.3" fill="#5CCB35"/>
<path d="M1690.4 1654.6 L1759.6 1639.5 L1828.8 1623.9 L1898.1 1612.6 L1967.3 1600.2 L2036.5 1594.3 L2105.7 1586.7 L2175 1582.4 L2244.2 1579.2 L2313.4 1577" fill="none" stroke="#7330A5" stroke-width="2.3" stroke-linejoin="round" stroke-linecap="round"/>
<path d="M1690.4 1649L1696 1654.6L1690.4 1660.2L1684.8 1654.6zM1759.6 1633.9L1765.2 1639.5L1759.6 1645.1L1754 1639.5zM1828.8 1618.3L1834.4 1623.9L1828.8 1629.5L1823.2 1623.9zM1898.1 1607L1903.7 1612.6L1898.1 1618.2L1892.5 1612.6zM1967.3 1594.6L1972.9 1600.2L1967.3 1605.8L1961.7 1600.2zM2036.5 1588.7L2042.1 1594.3L2036.5 1599.9L2030.9 1594.3zM2105.7 1581.1L2111.3 1586.7L2105.7 1592.3L2100.1 1586.7zM2175 1576.8L2180.6 1582.4L2175 1588L2169.4 1582.4zM2244.2 1573.6L2249.8 1579.2L2244.2 1584.8L2238.6 1579.2zM2313.4 1571.4L2319 1577L2313.4 1582.6L2307.8 1577z" fill="#7330A5" stroke="none"/>
<path d="M1690.4 1915.8 L1759.6 1928.7 L1828.8 1917.4 L1898.1 1843.1 L1967.3 1820.4 L2036.5 1771.4 L2105.7 1755.8 L2175 1736.4 L2244.2 1687.4 L2313.4 1675.6" fill="none" stroke="#B85412" stroke-width="2.3" stroke-linejoin="round" stroke-linecap="round"/>
<path d="M1690.4 1911L1694.7 1919L1686.1 1919zM1759.6 1924L1763.9 1931.9L1755.3 1931.9zM1828.8 1912.6L1833.1 1920.6L1824.5 1920.6zM1898.1 1838.3L1902.4 1846.3L1893.8 1846.3zM1967.3 1815.7L1971.6 1823.7L1963 1823.7zM2036.5 1766.7L2040.8 1774.7L2032.2 1774.7zM2105.7 1751.1L2110 1759L2101.4 1759zM2175 1731.7L2179.3 1739.7L2170.7 1739.7zM2244.2 1682.7L2248.5 1690.7L2239.9 1690.7zM2313.4 1670.9L2317.7 1678.8L2309.1 1678.8z" fill="#fff" stroke="#B85412" stroke-width="2.4" stroke-linejoin="miter"/>
<path d="M1690.4 1683.1 L1759.6 1668.6 L1828.8 1641.7 L1898.1 1625 L1967.3 1619.6 L2036.5 1618 L2105.7 1612.6 L2175 1609.4 L2244.2 1601.8 L2313.4 1601.8" fill="none" stroke="#FFBE00" stroke-width="2.4" stroke-linejoin="round" stroke-linecap="round"/>
<path d="M1685.4 1678.1L1695.4 1688.1M1685.4 1688.1L1695.4 1678.1M1690.4 1678.1V1688.1M1754.6 1663.6L1764.6 1673.6M1754.6 1673.6L1764.6 1663.6M1759.6 1663.6V1673.6M1823.8 1636.7L1833.8 1646.7M1823.8 1646.7L1833.8 1636.7M1828.8 1636.7V1646.7M1893.1 1620L1903.1 1630M1893.1 1630L1903.1 1620M1898.1 1620V1630M1962.3 1614.6L1972.3 1624.6M1962.3 1624.6L1972.3 1614.6M1967.3 1614.6V1624.6M2031.5 1613L2041.5 1623M2031.5 1623L2041.5 1613M2036.5 1613V1623M2100.7 1607.6L2110.7 1617.6M2100.7 1617.6L2110.7 1607.6M2105.7 1607.6V1617.6M2170 1604.4L2180 1614.4M2170 1614.4L2180 1604.4M2175 1604.4V1614.4M2239.2 1596.8L2249.2 1606.8M2239.2 1606.8L2249.2 1596.8M2244.2 1596.8V1606.8M2308.4 1596.8L2318.4 1606.8M2308.4 1606.8L2318.4 1596.8M2313.4 1596.8V1606.8" fill="none" stroke="#FFBE00" stroke-width="2.6"/>
<path d="M1690.4 1653.5 L1759.6 1585.1 L1828.8 1558.7 L1898.1 1551.2 L1967.3 1549.6 L2036.5 1548.5 L2105.7 1546.9 L2175 1545.8 L2244.2 1544.2 L2313.4 1542.6" fill="none" stroke="#FF0000" stroke-width="2.3" stroke-linejoin="round" stroke-linecap="round"/>
<path d="M1686.5 1649.6h7.8v7.8h-7.8zM1755.7 1581.2h7.8v7.8h-7.8zM1824.9 1554.8h7.8v7.8h-7.8zM1894.2 1547.3h7.8v7.8h-7.8zM1963.4 1545.7h7.8v7.8h-7.8zM2032.6 1544.6h7.8v7.8h-7.8zM2101.8 1543h7.8v7.8h-7.8zM2171.1 1541.9h7.8v7.8h-7.8zM2240.3 1540.3h7.8v7.8h-7.8zM2309.5 1538.7h7.8v7.8h-7.8z" fill="#fff" stroke="#FF0000" stroke-width="3.0" stroke-linejoin="miter"/>
<path d="M1690.4 1527.5V2066H2313.4" fill="none" stroke="#000" stroke-width="3.0" stroke-linecap="square"/>
<path d="M1690.4 2066h9M1690.4 2012.2h9M1690.4 1958.3h9M1690.4 1904.5h9M1690.4 1850.6h9M1690.4 1796.8h9M1690.4 1742.9h9M1690.4 1689h9M1690.4 1635.2h9M1690.4 1581.3h9M1690.4 1527.5h9M1759.6 2066v-9M1828.8 2066v-9M1898.1 2066v-9M1967.3 2066v-9M2036.5 2066v-9M2105.7 2066v-9M2175 2066v-9M2244.2 2066v-9M2313.4 2066v-9" stroke="#000" stroke-width="2.4"/>
<g font-size="30" letter-spacing="1.5"><text x="1666.9" y="2076.5" text-anchor="end">0</text><text x="1666.9" y="2022.7" text-anchor="end">10</text><text x="1666.9" y="1968.8" text-anchor="end">20</text><text x="1666.9" y="1915" text-anchor="end">30</text><text x="1666.9" y="1861.1" text-anchor="end">40</text><text x="1666.9" y="1807.2" text-anchor="end">50</text><text x="1666.9" y="1753.4" text-anchor="end">60</text><text x="1666.9" y="1699.5" text-anchor="end">70</text><text x="1666.9" y="1645.7" text-anchor="end">80</text><text x="1666.9" y="1591.8" text-anchor="end">90</text><text x="1666.9" y="1538" text-anchor="end">100</text><text x="1691.2" y="2112.9" text-anchor="middle">20</text><text x="1760.4" y="2112.9" text-anchor="middle">40</text><text x="1829.6" y="2112.9" text-anchor="middle">60</text><text x="1898.8" y="2112.9" text-anchor="middle">80</text><text x="1968" y="2112.9" text-anchor="middle">100</text><text x="2037.3" y="2112.9" text-anchor="middle">120</text><text x="2106.5" y="2112.9" text-anchor="middle">140</text><text x="2175.7" y="2112.9" text-anchor="middle">160</text><text x="2244.9" y="2112.9" text-anchor="middle">180</text><text x="2314.2" y="2112.9" text-anchor="middle">200</text></g>
<text x="2026.8" y="2158" text-anchor="middle" font-size="31">Number of samples for each class</text>
<text x="2000" y="2214" text-anchor="middle" font-size="53">(i)</text>
<text transform="translate(1618.5 1798.2) rotate(-90)" x="0" y="0" text-anchor="middle" font-size="32">OA (%)</text>
</g>
<g id="chart-j">
<path d="M161.4 2449.7 L230.6 2434 L299.9 2395.8 L369.1 2409.8 L438.3 2392.5 L507.6 2389.3 L576.8 2385.5 L646 2382.3 L715.3 2380.7 L784.5 2381.8" fill="none" stroke="#00B4F0" stroke-width="2.6" stroke-linejoin="round" stroke-linecap="round"/>
<path d="M156.4 2449.7H166.4M161.4 2444.7V2454.7M225.6 2434H235.6M230.6 2429V2439M294.9 2395.8H304.9M299.9 2390.8V2400.8M364.1 2409.8H374.1M369.1 2404.8V2414.8M433.3 2392.5H443.3M438.3 2387.5V2397.5M502.6 2389.3H512.6M507.6 2384.3V2394.3M571.8 2385.5H581.8M576.8 2380.5V2390.5M641 2382.3H651M646 2377.3V2387.3M710.3 2380.7H720.3M715.3 2375.7V2385.7M779.5 2381.8H789.5M784.5 2376.8V2386.8" fill="none" stroke="#00B4F0" stroke-width="2.6"/>
<path d="M161.4 2516.5 L230.6 2520.8 L299.9 2468 L369.1 2458.3 L438.3 2451.3 L507.6 2441 L576.8 2441 L646 2436.7 L715.3 2414.1 L784.5 2414.1" fill="none" stroke="#FF2FC8" stroke-width="2.3" stroke-linejoin="round" stroke-linecap="round"/>
<circle cx="161.4" cy="2516.5" r="4.1" fill="#fff" stroke="#FF2FC8" stroke-width="2.4"/>
<circle cx="230.6" cy="2520.8" r="4.1" fill="#fff" stroke="#FF2FC8" stroke-width="2.4"/>
<circle cx="299.9" cy="2468" r="4.1" fill="#fff" stroke="#FF2FC8" stroke-width="2.4"/>
<circle cx="369.1" cy="2458.3" r="4.1" fill="#fff" stroke="#FF2FC8" stroke-width="2.4"/>
<circle cx="438.3" cy="2451.3" r="4.1" fill="#fff" stroke="#FF2FC8" stroke-width="2.4"/>
<circle cx="507.6" cy="2441" r="4.1" fill="#fff" stroke="#FF2FC8" stroke-width="2.4"/>
<circle cx="576.8" cy="2441" r="4.1" fill="#fff" stroke="#FF2FC8" stroke-width="2.4"/>
<circle cx="646" cy="2436.7" r="4.1" fill="#fff" stroke="#FF2FC8" stroke-width="2.4"/>
<circle cx="715.3" cy="2414.1" r="4.1" fill="#fff" stroke="#FF2FC8" stroke-width="2.4"/>
<circle cx="784.5" cy="2414.1" r="4.1" fill="#fff" stroke="#FF2FC8" stroke-width="2.4"/>
<path d="M161.4 2407.6 L230.6 2400.1 L299.9 2392 L369.1 2376.4 L438.3 2379.6 L507.6 2371 L576.8 2366.1 L646 2359.1 L715.3 2356.4 L784.5 2349.4" fill="none" stroke="#5CCB35" stroke-width="2.3" stroke-linejoin="round" stroke-linecap="round"/>
<circle cx="161.4" cy="2407.6" r="5.3" fill="#5CCB35"/>
<circle cx="230.6" cy="2400.1" r="5.3" fill="#5CCB35"/>
<circle cx="299.9" cy="2392" r="5.3" fill="#5CCB35"/>
<circle cx="369.1" cy="2376.4" r="5.3" fill="#5CCB35"/>
<circle cx="438.3" cy="2379.6" r="5.3" fill="#5CCB35"/>
<circle cx="507.6" cy="2371" r="5.3" fill="#5CCB35"/>
<circle cx="576.8" cy="2366.1" r="5.3" fill="#5CCB35"/>
<circle cx="646" cy="2359.1" r="5.3" fill="#5CCB35"/>
<circle cx="715.3" cy="2356.4" r="5.3" fill="#5CCB35"/>
<circle cx="784.5" cy="2349.4" r="5.3" fill="#5CCB35"/>
<path d="M161.4 2349.4 L230.6 2362.9 L299.9 2332.7 L369.1 2314.4 L438.3 2307.9 L507.6 2312.2 L576.8 2304.7 L646 2302 L715.3 2300.4 L784.5 2302" fill="none" stroke="#7330A5" stroke-width="2.3" stroke-linejoin="round" stroke-linecap="round"/>
<path d="M161.4 2343.8L167 2349.4L161.4 2355L155.8 2349.4zM230.6 2357.3L236.2 2362.9L230.6 2368.5L225 2362.9zM299.9 2327.1L305.5 2332.7L299.9 2338.3L294.3 2332.7zM369.1 2308.8L374.7 2314.4L369.1 2320L363.5 2314.4zM438.3 2302.3L443.9 2307.9L438.3 2313.5L432.7 2307.9zM507.6 2306.6L513.2 2312.2L507.6 2317.8L502 2312.2zM576.8 2299.1L582.4 2304.7L576.8 2310.3L571.2 2304.7zM646 2296.4L651.6 2302L646 2307.6L640.4 2302zM715.3 2294.8L720.9 2300.4L715.3 2306L709.7 2300.4zM784.5 2296.4L790.1 2302L784.5 2307.6L778.9 2302z" fill="#7330A5" stroke="none"/>
<path d="M161.4 2672.2 L230.6 2617.8 L299.9 2587.6 L369.1 2563.9 L438.3 2543.4 L507.6 2529.4 L576.8 2540.2 L646 2515.4 L715.3 2511.1 L784.5 2505.2" fill="none" stroke="#B85412" stroke-width="2.3" stroke-linejoin="round" stroke-linecap="round"/>
<path d="M161.4 2667.5L165.7 2675.5L157.1 2675.5zM230.6 2613.1L234.9 2621L226.3 2621zM299.9 2582.9L304.2 2590.8L295.6 2590.8zM369.1 2559.2L373.4 2567.1L364.8 2567.1zM438.3 2538.7L442.6 2546.7L434 2546.7zM507.6 2524.7L511.9 2532.6L503.3 2532.6zM576.8 2535.5L581.1 2543.4L572.5 2543.4zM646 2510.7L650.3 2518.6L641.7 2518.6zM715.3 2506.4L719.6 2514.3L711 2514.3zM784.5 2500.4L788.8 2508.4L780.2 2508.4z" fill="#fff" stroke="#B85412" stroke-width="2.4" stroke-linejoin="miter"/>
<path d="M161.4 2347.8 L230.6 2303.1 L299.9 2286.4 L369.1 2291.8 L438.3 2287.5 L507.6 2283.1 L576.8 2284.2 L646 2284.2 L715.3 2274 L784.5 2274" fill="none" stroke="#FFBE00" stroke-width="2.4" stroke-linejoin="round" stroke-linecap="round"/>
<path d="M156.4 2342.8L166.4 2352.8M156.4 2352.8L166.4 2342.8M161.4 2342.8V2352.8M225.6 2298.1L235.6 2308.1M225.6 2308.1L235.6 2298.1M230.6 2298.1V2308.1M294.9 2281.4L304.9 2291.4M294.9 2291.4L304.9 2281.4M299.9 2281.4V2291.4M364.1 2286.8L374.1 2296.8M364.1 2296.8L374.1 2286.8M369.1 2286.8V2296.8M433.3 2282.5L443.3 2292.5M433.3 2292.5L443.3 2282.5M438.3 2282.5V2292.5M502.6 2278.1L512.6 2288.1M502.6 2288.1L512.6 2278.1M507.6 2278.1V2288.1M571.8 2279.2L581.8 2289.2M571.8 2289.2L581.8 2279.2M576.8 2279.2V2289.2M641 2279.2L651 2289.2M641 2289.2L651 2279.2M646 2279.2V2289.2M710.3 2269L720.3 2279M710.3 2279L720.3 2269M715.3 2269V2279M779.5 2269L789.5 2279M779.5 2279L789.5 2269M784.5 2269V2279" fill="none" stroke="#FFBE00" stroke-width="2.6"/>
<path d="M161.4 2558.5 L230.6 2464.8 L299.9 2419.5 L369.1 2381.2 L438.3 2381.2 L507.6 2355.4 L576.8 2342.4 L646 2332.7 L715.3 2315.5 L784.5 2315.5" fill="none" stroke="#FF0000" stroke-width="2.3" stroke-linejoin="round" stroke-linecap="round"/>
<path d="M157.5 2554.6h7.8v7.8h-7.8zM226.7 2460.9h7.8v7.8h-7.8zM296 2415.6h7.8v7.8h-7.8zM365.2 2377.3h7.8v7.8h-7.8zM434.4 2377.3h7.8v7.8h-7.8zM503.7 2351.5h7.8v7.8h-7.8zM572.9 2338.5h7.8v7.8h-7.8zM642.1 2328.8h7.8v7.8h-7.8zM711.4 2311.6h7.8v7.8h-7.8zM780.6 2311.6h7.8v7.8h-7.8z" fill="#fff" stroke="#FF0000" stroke-width="3.0" stroke-linejoin="miter"/>
<path d="M161.4 2246.5V2785.4H784.5" fill="none" stroke="#000" stroke-width="3.0" stroke-linecap="square"/>
<path d="M161.4 2785.4h9M161.4 2731.5h9M161.4 2677.6h9M161.4 2623.7h9M161.4 2569.8h9M161.4 2515.9h9M161.4 2462.1h9M161.4 2408.2h9M161.4 2354.3h9M161.4 2300.4h9M161.4 2246.5h9M230.6 2785.4v-9M299.9 2785.4v-9M369.1 2785.4v-9M438.3 2785.4v-9M507.6 2785.4v-9M576.8 2785.4v-9M646 2785.4v-9M715.3 2785.4v-9M784.5 2785.4v-9" stroke="#000" stroke-width="2.4"/>
<clipPath id="clip-j"><rect x="0" y="0" width="805.3" height="3062"/></clipPath>
<g font-size="30" letter-spacing="1.5" clip-path="url(#clip-j)"><text x="137.9" y="2795.9" text-anchor="end">0</text><text x="137.9" y="2742" text-anchor="end">10</text><text x="137.9" y="2688.1" text-anchor="end">20</text><text x="137.9" y="2634.2" text-anchor="end">30</text><text x="137.9" y="2580.3" text-anchor="end">40</text><text x="137.9" y="2526.4" text-anchor="end">50</text><text x="137.9" y="2472.6" text-anchor="end">60</text><text x="137.9" y="2418.7" text-anchor="end">70</text><text x="137.9" y="2364.8" text-anchor="end">80</text><text x="137.9" y="2310.9" text-anchor="end">90</text><text x="137.9" y="2257" text-anchor="end">100</text><text x="162.2" y="2831.6" text-anchor="middle">20</text><text x="231.4" y="2831.6" text-anchor="middle">40</text><text x="300.6" y="2831.6" text-anchor="middle">60</text><text x="369.9" y="2831.6" text-anchor="middle">80</text><text x="439.1" y="2831.6" text-anchor="middle">100</text><text x="508.3" y="2831.6" text-anchor="middle">120</text><text x="577.5" y="2831.6" text-anchor="middle">140</text><text x="646.8" y="2831.6" text-anchor="middle">160</text><text x="716" y="2831.6" text-anchor="middle">180</text><text x="785.2" y="2831.6" text-anchor="middle">200</text></g>
<text x="498.2" y="2877" text-anchor="middle" font-size="31">Number of samples for each class</text>
<text x="463.5" y="2933" text-anchor="middle" font-size="53">(j)</text>
<text transform="translate(89.4 2516.9) rotate(-90)" x="0" y="0" text-anchor="middle" font-size="32">OA (%)</text>
</g>
<g id="chart-k">
<path d="M910.2 2442 L979.6 2391.2 L1048.9 2381.5 L1118.3 2371.8 L1187.7 2366.4 L1257 2363.2 L1326.4 2353.4 L1395.8 2352.4 L1465.1 2350.7 L1534.5 2353.4" fill="none" stroke="#00B4F0" stroke-width="2.6" stroke-linejoin="round" stroke-linecap="round"/>
<path d="M905.2 2442H915.2M910.2 2437V2447M974.6 2391.2H984.6M979.6 2386.2V2396.2M1043.9 2381.5H1053.9M1048.9 2376.5V2386.5M1113.3 2371.8H1123.3M1118.3 2366.8V2376.8M1182.7 2366.4H1192.7M1187.7 2361.4V2371.4M1252 2363.2H1262M1257 2358.2V2368.2M1321.4 2353.4H1331.4M1326.4 2348.4V2358.4M1390.8 2352.4H1400.8M1395.8 2347.4V2357.4M1460.1 2350.7H1470.1M1465.1 2345.7V2355.7M1529.5 2353.4H1539.5M1534.5 2348.4V2358.4" fill="none" stroke="#00B4F0" stroke-width="2.6"/>
<path d="M910.2 2471.2 L979.6 2401 L1048.9 2383.7 L1118.3 2377.7 L1187.7 2372.9 L1257 2361 L1326.4 2349.1 L1395.8 2344.8 L1465.1 2341.6 L1534.5 2338.9" fill="none" stroke="#FF2FC8" stroke-width="2.3" stroke-linejoin="round" stroke-linecap="round"/>
<circle cx="910.2" cy="2471.2" r="4.1" fill="#fff" stroke="#FF2FC8" stroke-width="2.4"/>
<circle cx="979.6" cy="2401" r="4.1" fill="#fff" stroke="#FF2FC8" stroke-width="2.4"/>
<circle cx="1048.9" cy="2383.7" r="4.1" fill="#fff" stroke="#FF2FC8" stroke-width="2.4"/>
<circle cx="1118.3" cy="2377.7" r="4.1" fill="#fff" stroke="#FF2FC8" stroke-width="2.4"/>
<circle cx="1187.7" cy="2372.9" r="4.1" fill="#fff" stroke="#FF2FC8" stroke-width="2.4"/>
<circle cx="1257" cy="2361" r="4.1" fill="#fff" stroke="#FF2FC8" stroke-width="2.4"/>
<circle cx="1326.4" cy="2349.1" r="4.1" fill="#fff" stroke="#FF2FC8" stroke-width="2.4"/>
<circle cx="1395.8" cy="2344.8" r="4.1" fill="#fff" stroke="#FF2FC8" stroke-width="2.4"/>
<circle cx="1465.1" cy="2341.6" r="4.1" fill="#fff" stroke="#FF2FC8" stroke-width="2.4"/>
<circle cx="1534.5" cy="2338.9" r="4.1" fill="#fff" stroke="#FF2FC8" stroke-width="2.4"/>
<path d="M910.2 2370.2 L979.6 2356.1 L1048.9 2344.8 L1118.3 2346.4 L1187.7 2343.2 L1257 2335.6 L1326.4 2325.4 L1395.8 2319.4 L1465.1 2312.4 L1534.5 2306.5" fill="none" stroke="#5CCB35" stroke-width="2.3" stroke-linejoin="round" stroke-linecap="round"/>
<circle cx="910.2" cy="2370.2" r="5.3" fill="#5CCB35"/>
<circle cx="979.6" cy="2356.1" r="5.3" fill="#5CCB35"/>
<circle cx="1048.9" cy="2344.8" r="5.3" fill="#5CCB35"/>
<circle cx="1118.3" cy="2346.4" r="5.3" fill="#5CCB35"/>
<circle cx="1187.7" cy="2343.2" r="5.3" fill="#5CCB35"/>
<circle cx="1257" cy="2335.6" r="5.3" fill="#5CCB35"/>
<circle cx="1326.4" cy="2325.4" r="5.3" fill="#5CCB35"/>
<circle cx="1395.8" cy="2319.4" r="5.3" fill="#5CCB35"/>
<circle cx="1465.1" cy="2312.4" r="5.3" fill="#5CCB35"/>
<circle cx="1534.5" cy="2306.5" r="5.3" fill="#5CCB35"/>
<path d="M910.2 2355.1 L979.6 2322.1 L1048.9 2303.2 L1118.3 2296.2 L1187.7 2281.1 L1257 2285.9 L1326.4 2281.1 L1395.8 2282.1 L1465.1 2284.3 L1534.5 2281.6" fill="none" stroke="#7330A5" stroke-width="2.3" stroke-linejoin="round" stroke-linecap="round"/>
<path d="M910.2 2349.5L915.8 2355.1L910.2 2360.7L904.6 2355.1zM979.6 2316.5L985.2 2322.1L979.6 2327.7L974 2322.1zM1048.9 2297.6L1054.5 2303.2L1048.9 2308.8L1043.3 2303.2zM1118.3 2290.6L1123.9 2296.2L1118.3 2301.8L1112.7 2296.2zM1187.7 2275.5L1193.3 2281.1L1187.7 2286.7L1182.1 2281.1zM1257 2280.3L1262.6 2285.9L1257 2291.5L1251.4 2285.9zM1326.4 2275.5L1332 2281.1L1326.4 2286.7L1320.8 2281.1zM1395.8 2276.5L1401.4 2282.1L1395.8 2287.7L1390.2 2282.1zM1465.1 2278.7L1470.7 2284.3L1465.1 2289.9L1459.5 2284.3zM1534.5 2276L1540.1 2281.6L1534.5 2287.2L1528.9 2281.6z" fill="#7330A5" stroke="none"/>
<path d="M910.2 2681.3 L979.6 2590 L1048.9 2574.3 L1118.3 2544.6 L1187.7 2513.8 L1257 2507.4 L1326.4 2480.9 L1395.8 2484.7 L1465.1 2466.3 L1534.5 2470.6" fill="none" stroke="#B85412" stroke-width="2.3" stroke-linejoin="round" stroke-linecap="round"/>
<path d="M910.2 2676.6L914.5 2684.5L905.9 2684.5zM979.6 2585.3L983.9 2593.2L975.3 2593.2zM1048.9 2569.6L1053.2 2577.6L1044.6 2577.6zM1118.3 2539.9L1122.6 2547.9L1114 2547.9zM1187.7 2509.1L1192 2517.1L1183.4 2517.1zM1257 2502.6L1261.3 2510.6L1252.7 2510.6zM1326.4 2476.2L1330.7 2484.1L1322.1 2484.1zM1395.8 2480L1400.1 2487.9L1391.5 2487.9zM1465.1 2461.6L1469.4 2469.5L1460.8 2469.5zM1534.5 2465.9L1538.8 2473.9L1530.2 2473.9z" fill="#fff" stroke="#B85412" stroke-width="2.4" stroke-linejoin="miter"/>
<path d="M910.2 2281.1 L979.6 2278.4 L1048.9 2268.1 L1118.3 2268.1 L1187.7 2266.5 L1257 2262.2 L1326.4 2266.5 L1395.8 2262.2 L1465.1 2258.4 L1534.5 2258.4" fill="none" stroke="#FFBE00" stroke-width="2.4" stroke-linejoin="round" stroke-linecap="round"/>
<path d="M905.2 2276.1L915.2 2286.1M905.2 2286.1L915.2 2276.1M910.2 2276.1V2286.1M974.6 2273.4L984.6 2283.4M974.6 2283.4L984.6 2273.4M979.6 2273.4V2283.4M1043.9 2263.1L1053.9 2273.1M1043.9 2273.1L1053.9 2263.1M1048.9 2263.1V2273.1M1113.3 2263.1L1123.3 2273.1M1113.3 2273.1L1123.3 2263.1M1118.3 2263.1V2273.1M1182.7 2261.5L1192.7 2271.5M1182.7 2271.5L1192.7 2261.5M1187.7 2261.5V2271.5M1252 2257.2L1262 2267.2M1252 2267.2L1262 2257.2M1257 2257.2V2267.2M1321.4 2261.5L1331.4 2271.5M1321.4 2271.5L1331.4 2261.5M1326.4 2261.5V2271.5M1390.8 2257.2L1400.8 2267.2M1390.8 2267.2L1400.8 2257.2M1395.8 2257.2V2267.2M1460.1 2253.4L1470.1 2263.4M1460.1 2263.4L1470.1 2253.4M1465.1 2253.4V2263.4M1529.5 2253.4L1539.5 2263.4M1529.5 2263.4L1539.5 2253.4M1534.5 2253.4V2263.4" fill="none" stroke="#FFBE00" stroke-width="2.6"/>
<path d="M910.2 2493.9 L979.6 2413.4 L1048.9 2376.7 L1118.3 2342.1 L1187.7 2325.4 L1257 2304.8 L1326.4 2285.4 L1395.8 2285.4 L1465.1 2266.5 L1534.5 2269.2" fill="none" stroke="#FF0000" stroke-width="2.3" stroke-linejoin="round" stroke-linecap="round"/>
<path d="M906.3 2490h7.8v7.8h-7.8zM975.7 2409.5h7.8v7.8h-7.8zM1045 2372.8h7.8v7.8h-7.8zM1114.4 2338.2h7.8v7.8h-7.8zM1183.8 2321.5h7.8v7.8h-7.8zM1253.1 2300.9h7.8v7.8h-7.8zM1322.5 2281.5h7.8v7.8h-7.8zM1391.9 2281.5h7.8v7.8h-7.8zM1461.2 2262.6h7.8v7.8h-7.8zM1530.6 2265.3h7.8v7.8h-7.8z" fill="#fff" stroke="#FF0000" stroke-width="3.0" stroke-linejoin="miter"/>
<path d="M910.2 2249.2V2789.3H1534.5" fill="none" stroke="#000" stroke-width="3.0" stroke-linecap="square"/>
<path d="M910.2 2789.3h9M910.2 2735.3h9M910.2 2681.3h9M910.2 2627.3h9M910.2 2573.3h9M910.2 2519.2h9M910.2 2465.2h9M910.2 2411.2h9M910.2 2357.2h9M910.2 2303.2h9M910.2 2249.2h9M979.6 2789.3v-9M1048.9 2789.3v-9M1118.3 2789.3v-9M1187.7 2789.3v-9M1257 2789.3v-9M1326.4 2789.3v-9M1395.8 2789.3v-9M1465.1 2789.3v-9M1534.5 2789.3v-9" stroke="#000" stroke-width="2.4"/>
<g font-size="30" letter-spacing="1.5"><text x="886.7" y="2799.8" text-anchor="end">0</text><text x="886.7" y="2745.8" text-anchor="end">10</text><text x="886.7" y="2691.8" text-anchor="end">20</text><text x="886.7" y="2637.8" text-anchor="end">30</text><text x="886.7" y="2583.8" text-anchor="end">40</text><text x="886.7" y="2529.8" text-anchor="end">50</text><text x="886.7" y="2475.7" text-anchor="end">60</text><text x="886.7" y="2421.7" text-anchor="end">70</text><text x="886.7" y="2367.7" text-anchor="end">80</text><text x="886.7" y="2313.7" text-anchor="end">90</text><text x="886.7" y="2259.7" text-anchor="end">100</text><text x="911" y="2835" text-anchor="middle">20</text><text x="980.3" y="2835" text-anchor="middle">40</text><text x="1049.7" y="2835" text-anchor="middle">60</text><text x="1119" y="2835" text-anchor="middle">80</text><text x="1188.4" y="2835" text-anchor="middle">100</text><text x="1257.8" y="2835" text-anchor="middle">120</text><text x="1327.2" y="2835" text-anchor="middle">140</text><text x="1396.5" y="2835" text-anchor="middle">160</text><text x="1465.9" y="2835" text-anchor="middle">180</text><text x="1535.2" y="2835" text-anchor="middle">200</text></g>
<text x="1248.8" y="2880" text-anchor="middle" font-size="31">Number of samples for each class</text>
<text x="1229" y="2937" text-anchor="middle" font-size="53">(k)</text>
<text transform="translate(838.1 2520.4) rotate(-90)" x="0" y="0" text-anchor="middle" font-size="32">OA (%)</text>
</g>
<g id="chart-l">
<path d="M1688 2378.8 L1757.4 2360.4 L1826.7 2336.1 L1896.1 2336.1 L1965.5 2330.1 L2034.8 2325.2 L2104.2 2317.1 L2173.6 2317.1 L2242.9 2309.5 L2312.3 2306.3" fill="none" stroke="#00B4F0" stroke-width="2.6" stroke-linejoin="round" stroke-linecap="round"/>
<path d="M1683 2378.8H1693M1688 2373.8V2383.8M1752.4 2360.4H1762.4M1757.4 2355.4V2365.4M1821.7 2336.1H1831.7M1826.7 2331.1V2341.1M1891.1 2336.1H1901.1M1896.1 2331.1V2341.1M1960.5 2330.1H1970.5M1965.5 2325.1V2335.1M2029.8 2325.2H2039.8M2034.8 2320.2V2330.2M2099.2 2317.1H2109.2M2104.2 2312.1V2322.1M2168.6 2317.1H2178.6M2173.6 2312.1V2322.1M2237.9 2309.5H2247.9M2242.9 2304.5V2314.5M2307.3 2306.3H2317.3M2312.3 2301.3V2311.3" fill="none" stroke="#00B4F0" stroke-width="2.6"/>
<path d="M1688 2352.3 L1757.4 2340.9 L1826.7 2333.9 L1896.1 2331.7 L1965.5 2330.1 L2034.8 2325.8 L2104.2 2325.8 L2173.6 2324.2 L2242.9 2323.1 L2312.3 2323.1" fill="none" stroke="#FF2FC8" stroke-width="2.3" stroke-linejoin="round" stroke-linecap="round"/>
<circle cx="1688" cy="2352.3" r="4.1" fill="#fff" stroke="#FF2FC8" stroke-width="2.4"/>
<circle cx="1757.4" cy="2340.9" r="4.1" fill="#fff" stroke="#FF2FC8" stroke-width="2.4"/>
<circle cx="1826.7" cy="2333.9" r="4.1" fill="#fff" stroke="#FF2FC8" stroke-width="2.4"/>
<circle cx="1896.1" cy="2331.7" r="4.1" fill="#fff" stroke="#FF2FC8" stroke-width="2.4"/>
<circle cx="1965.5" cy="2330.1" r="4.1" fill="#fff" stroke="#FF2FC8" stroke-width="2.4"/>
<circle cx="2034.8" cy="2325.8" r="4.1" fill="#fff" stroke="#FF2FC8" stroke-width="2.4"/>
<circle cx="2104.2" cy="2325.8" r="4.1" fill="#fff" stroke="#FF2FC8" stroke-width="2.4"/>
<circle cx="2173.6" cy="2324.2" r="4.1" fill="#fff" stroke="#FF2FC8" stroke-width="2.4"/>
<circle cx="2242.9" cy="2323.1" r="4.1" fill="#fff" stroke="#FF2FC8" stroke-width="2.4"/>
<circle cx="2312.3" cy="2323.1" r="4.1" fill="#fff" stroke="#FF2FC8" stroke-width="2.4"/>
<path d="M1688 2358.2 L1757.4 2326.9 L1826.7 2309.5 L1896.1 2308.5 L1965.5 2299.3 L2034.8 2298.2 L2104.2 2296.5 L2173.6 2294.9 L2242.9 2290.1 L2312.3 2290.1" fill="none" stroke="#5CCB35" stroke-width="2.3" stroke-linejoin="round" stroke-linecap="round"/>
<circle cx="1688" cy="2358.2" r="5.3" fill="#5CCB35"/>
<circle cx="1757.4" cy="2326.9" r="5.3" fill="#5CCB35"/>
<circle cx="1826.7" cy="2309.5" r="5.3" fill="#5CCB35"/>
<circle cx="1896.1" cy="2308.5" r="5.3" fill="#5CCB35"/>
<circle cx="1965.5" cy="2299.3" r="5.3" fill="#5CCB35"/>
<circle cx="2034.8" cy="2298.2" r="5.3" fill="#5CCB35"/>
<circle cx="2104.2" cy="2296.5" r="5.3" fill="#5CCB35"/>
<circle cx="2173.6" cy="2294.9" r="5.3" fill="#5CCB35"/>
<circle cx="2242.9" cy="2290.1" r="5.3" fill="#5CCB35"/>
<circle cx="2312.3" cy="2290.1" r="5.3" fill="#5CCB35"/>
<path d="M1688 2311.7 L1757.4 2282.5 L1826.7 2278.7 L1896.1 2273.8 L1965.5 2268.9 L2034.8 2266.8 L2104.2 2264.1 L2173.6 2260.3 L2242.9 2260.3 L2312.3 2258.1" fill="none" stroke="#7330A5" stroke-width="2.3" stroke-linejoin="round" stroke-linecap="round"/>
<path d="M1688 2306.1L1693.6 2311.7L1688 2317.3L1682.4 2311.7zM1757.4 2276.9L1763 2282.5L1757.4 2288.1L1751.8 2282.5zM1826.7 2273.1L1832.3 2278.7L1826.7 2284.3L1821.1 2278.7zM1896.1 2268.2L1901.7 2273.8L1896.1 2279.4L1890.5 2273.8zM1965.5 2263.3L1971.1 2268.9L1965.5 2274.5L1959.9 2268.9zM2034.8 2261.2L2040.4 2266.8L2034.8 2272.4L2029.2 2266.8zM2104.2 2258.5L2109.8 2264.1L2104.2 2269.7L2098.6 2264.1zM2173.6 2254.7L2179.2 2260.3L2173.6 2265.9L2168 2260.3zM2242.9 2254.7L2248.5 2260.3L2242.9 2265.9L2237.3 2260.3zM2312.3 2252.5L2317.9 2258.1L2312.3 2263.7L2306.7 2258.1z" fill="#7330A5" stroke="none"/>
<path d="M1688 2575.3 L1757.4 2553.6 L1826.7 2572.6 L1896.1 2553.1 L1965.5 2528.7 L2034.8 2530.3 L2104.2 2518.4 L2173.6 2501.1 L2242.9 2496.3 L2312.3 2479.5" fill="none" stroke="#B85412" stroke-width="2.3" stroke-linejoin="round" stroke-linecap="round"/>
<path d="M1688 2570.5L1692.3 2578.5L1683.7 2578.5zM1757.4 2548.9L1761.7 2556.8L1753.1 2556.8zM1826.7 2567.8L1831 2575.8L1822.4 2575.8zM1896.1 2548.3L1900.4 2556.3L1891.8 2556.3zM1965.5 2524L1969.8 2531.9L1961.2 2531.9zM2034.8 2525.6L2039.1 2533.6L2030.5 2533.6zM2104.2 2513.7L2108.5 2521.7L2099.9 2521.7zM2173.6 2496.4L2177.9 2504.3L2169.3 2504.3zM2242.9 2491.5L2247.2 2499.5L2238.6 2499.5zM2312.3 2474.7L2316.6 2482.7L2308 2482.7z" fill="#fff" stroke="#B85412" stroke-width="2.4" stroke-linejoin="miter"/>
<path d="M1688 2285.7 L1757.4 2257.6 L1826.7 2257.6 L1896.1 2257.6 L1965.5 2254.9 L2034.8 2253.8 L2104.2 2252.2 L2173.6 2252.2 L2242.9 2252.2 L2312.3 2252.2" fill="none" stroke="#FFBE00" stroke-width="2.4" stroke-linejoin="round" stroke-linecap="round"/>
<path d="M1683 2280.7L1693 2290.7M1683 2290.7L1693 2280.7M1688 2280.7V2290.7M1752.4 2252.6L1762.4 2262.6M1752.4 2262.6L1762.4 2252.6M1757.4 2252.6V2262.6M1821.7 2252.6L1831.7 2262.6M1821.7 2262.6L1831.7 2252.6M1826.7 2252.6V2262.6M1891.1 2252.6L1901.1 2262.6M1891.1 2262.6L1901.1 2252.6M1896.1 2252.6V2262.6M1960.5 2249.9L1970.5 2259.9M1960.5 2259.9L1970.5 2249.9M1965.5 2249.9V2259.9M2029.8 2248.8L2039.8 2258.8M2029.8 2258.8L2039.8 2248.8M2034.8 2248.8V2258.8M2099.2 2247.2L2109.2 2257.2M2099.2 2257.2L2109.2 2247.2M2104.2 2247.2V2257.2M2168.6 2247.2L2178.6 2257.2M2168.6 2257.2L2178.6 2247.2M2173.6 2247.2V2257.2M2237.9 2247.2L2247.9 2257.2M2237.9 2257.2L2247.9 2247.2M2242.9 2247.2V2257.2M2307.3 2247.2L2317.3 2257.2M2307.3 2257.2L2317.3 2247.2M2312.3 2247.2V2257.2" fill="none" stroke="#FFBE00" stroke-width="2.6"/>
<path d="M1688 2541.7 L1757.4 2398.3 L1826.7 2362 L1896.1 2331.7 L1965.5 2320.4 L2034.8 2292.8 L2104.2 2289 L2173.6 2277.1 L2242.9 2269.5 L2312.3 2266.8" fill="none" stroke="#FF0000" stroke-width="2.3" stroke-linejoin="round" stroke-linecap="round"/>
<path d="M1684.1 2537.8h7.8v7.8h-7.8zM1753.5 2394.4h7.8v7.8h-7.8zM1822.8 2358.1h7.8v7.8h-7.8zM1892.2 2327.8h7.8v7.8h-7.8zM1961.6 2316.5h7.8v7.8h-7.8zM2030.9 2288.9h7.8v7.8h-7.8zM2100.3 2285.1h7.8v7.8h-7.8zM2169.7 2273.2h7.8v7.8h-7.8zM2239 2265.6h7.8v7.8h-7.8zM2308.4 2262.9h7.8v7.8h-7.8z" fill="#fff" stroke="#FF0000" stroke-width="3.0" stroke-linejoin="miter"/>
<path d="M1688 2247.3V2788.5H2312.3" fill="none" stroke="#000" stroke-width="3.0" stroke-linecap="square"/>
<path d="M1688 2788.5h9M1688 2734.4h9M1688 2680.3h9M1688 2626.1h9M1688 2572h9M1688 2517.9h9M1688 2463.8h9M1688 2409.7h9M1688 2355.5h9M1688 2301.4h9M1688 2247.3h9M1757.4 2788.5v-9M1826.7 2788.5v-9M1896.1 2788.5v-9M1965.5 2788.5v-9M2034.8 2788.5v-9M2104.2 2788.5v-9M2173.6 2788.5v-9M2242.9 2788.5v-9M2312.3 2788.5v-9" stroke="#000" stroke-width="2.4"/>
<g font-size="30" letter-spacing="1.5"><text x="1664.5" y="2799" text-anchor="end">0</text><text x="1664.5" y="2744.9" text-anchor="end">10</text><text x="1664.5" y="2690.8" text-anchor="end">20</text><text x="1664.5" y="2636.6" text-anchor="end">30</text><text x="1664.5" y="2582.5" text-anchor="end">40</text><text x="1664.5" y="2528.4" text-anchor="end">50</text><text x="1664.5" y="2474.3" text-anchor="end">60</text><text x="1664.5" y="2420.2" text-anchor="end">70</text><text x="1664.5" y="2366" text-anchor="end">80</text><text x="1664.5" y="2311.9" text-anchor="end">90</text><text x="1664.5" y="2257.8" text-anchor="end">100</text><text x="1688.8" y="2835" text-anchor="middle">20</text><text x="1758.1" y="2835" text-anchor="middle">40</text><text x="1827.5" y="2835" text-anchor="middle">60</text><text x="1896.9" y="2835" text-anchor="middle">80</text><text x="1966.2" y="2835" text-anchor="middle">100</text><text x="2035.6" y="2835" text-anchor="middle">120</text><text x="2105" y="2835" text-anchor="middle">140</text><text x="2174.3" y="2835" text-anchor="middle">160</text><text x="2243.7" y="2835" text-anchor="middle">180</text><text x="2313.1" y="2835" text-anchor="middle">200</text></g>
<text x="2027.7" y="2880" text-anchor="middle" font-size="31">Number of samples for each class</text>
<text x="2013" y="2934" text-anchor="middle" font-size="53">(l)</text>
<text transform="translate(1616.1 2518.3) rotate(-90)" x="0" y="0" text-anchor="middle" font-size="32">OA (%)</text>
</g>
<g id="legend">
<path d="M354.4 2998.6H417.6" stroke="#00B4F0" stroke-width="2.6"/>
<path d="M382.2 2998.6H389.8M386 2994.8V3002.3" fill="none" stroke="#00B4F0" stroke-width="2"/>
<text x="422.9" y="3010.5" font-size="42" letter-spacing="-0.4">LSTM</text>
<path d="M605.3 2998.6H669.3" stroke="#FF2FC8" stroke-width="2.6"/>
<circle cx="637.3" cy="2998.6" r="3" fill="#fff" stroke="#FF2FC8" stroke-width="1.8"/>
<text x="673.8" y="3010.5" font-size="42" letter-spacing="-0.4">MCNN</text>
<path d="M870.4 2998.6H934" stroke="#5CCB35" stroke-width="2.6"/>
<circle cx="902.2" cy="2998.6" r="2.6" fill="#fff" stroke="#5CCB35" stroke-width="1.8"/>
<text x="940.4" y="3010.5" font-size="42" letter-spacing="-0.4">SSUN</text>
<path d="M1118 2998.6H1180" stroke="#7330A5" stroke-width="2.6"/>
<path d="M1149 2995.4l3.2 3.2l-3.2 3.2l-3.2 -3.2z" fill="#fff" stroke="#7330A5" stroke-width="1.8"/>
<text x="1186" y="3010.5" font-size="42" letter-spacing="-0.4">RPNet</text>
<path d="M1368.4 2998.6H1431.2" stroke="#B85412" stroke-width="2.6"/>
<path d="M1399.8 2995.1L1403 3001L1396.6 3001z" fill="#fff" stroke="#B85412" stroke-width="2"/>
<text x="1436.9" y="3010.5" font-size="42" letter-spacing="-0.4">3DSWT</text>
<path d="M1623.7 2998.6H1687" stroke="#FFBE00" stroke-width="2.6"/>
<path d="M1651.6 2994.8L1659.1 3002.3M1651.6 3002.3L1659.1 2994.8M1655.3 2994.8V3002.3" fill="none" stroke="#FFBE00" stroke-width="2"/>
<text x="1694" y="3010.5" font-size="42" letter-spacing="-0.4">ERW</text>
<path d="M1857.8 2998.6H1919.6" stroke="#FF0000" stroke-width="2.6"/>
<path d="M1885.8 2995.7h5.8v5.8h-5.8z" fill="#fff" stroke="#FF0000" stroke-width="2"/>
<text x="1925.3" y="3010.5" font-size="42" letter-spacing="-0.4">FRML</text>
</g>
</svg></body></html>
